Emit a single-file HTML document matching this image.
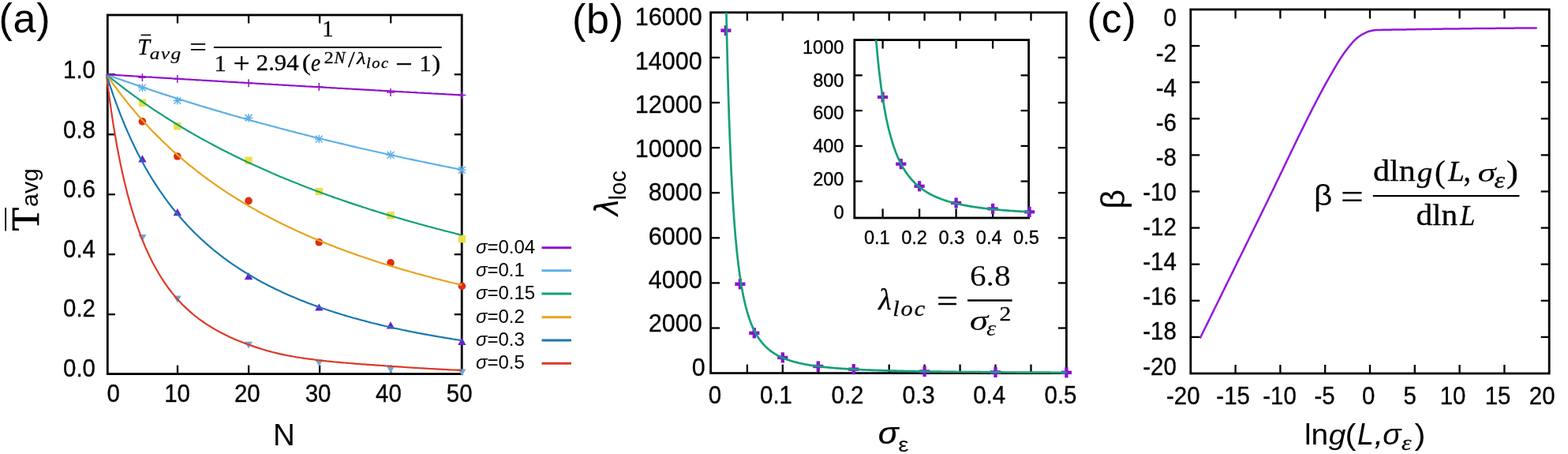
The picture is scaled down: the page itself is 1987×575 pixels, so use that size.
<!DOCTYPE html>
<html lang="en"><head><meta charset="utf-8"><title>Figure</title>
<style>
html,body{margin:0;padding:0;background:#fff;}
body{width:1987px;height:575px;overflow:hidden;}
svg{display:block;filter:blur(0.45px);}
</style></head>
<body>
<svg width="1987" height="575" viewBox="0 0 1987 575">
<rect width="1987" height="575" fill="#fff"/>
<g id="panelA">
<rect x="136.3" y="19.0" width="448.90000000000003" height="454.6" fill="none" stroke="#000" stroke-width="2.8"/>
<line x1="225.0" y1="473.6" x2="225.0" y2="462.6" stroke="#000" stroke-width="2.3" />
<line x1="225.0" y1="19.0" x2="225.0" y2="29.5" stroke="#000" stroke-width="2.3" />
<line x1="315.1" y1="473.6" x2="315.1" y2="462.6" stroke="#000" stroke-width="2.3" />
<line x1="315.1" y1="19.0" x2="315.1" y2="29.5" stroke="#000" stroke-width="2.3" />
<line x1="405.1" y1="473.6" x2="405.1" y2="462.6" stroke="#000" stroke-width="2.3" />
<line x1="405.1" y1="19.0" x2="405.1" y2="29.5" stroke="#000" stroke-width="2.3" />
<line x1="495.2" y1="473.6" x2="495.2" y2="462.6" stroke="#000" stroke-width="2.3" />
<line x1="495.2" y1="19.0" x2="495.2" y2="29.5" stroke="#000" stroke-width="2.3" />
<line x1="136.3" y1="398.2" x2="145.8" y2="398.2" stroke="#000" stroke-width="2.3" />
<line x1="585.2" y1="398.2" x2="575.7" y2="398.2" stroke="#000" stroke-width="2.3" />
<line x1="136.3" y1="322.2" x2="145.8" y2="322.2" stroke="#000" stroke-width="2.3" />
<line x1="585.2" y1="322.2" x2="575.7" y2="322.2" stroke="#000" stroke-width="2.3" />
<line x1="136.3" y1="246.3" x2="145.8" y2="246.3" stroke="#000" stroke-width="2.3" />
<line x1="585.2" y1="246.3" x2="575.7" y2="246.3" stroke="#000" stroke-width="2.3" />
<line x1="136.3" y1="170.3" x2="145.8" y2="170.3" stroke="#000" stroke-width="2.3" />
<line x1="585.2" y1="170.3" x2="575.7" y2="170.3" stroke="#000" stroke-width="2.3" />
<line x1="136.3" y1="94.3" x2="145.8" y2="94.3" stroke="#000" stroke-width="2.3" />
<line x1="585.2" y1="94.3" x2="575.7" y2="94.3" stroke="#000" stroke-width="2.3" />
<line x1="180.4" y1="93.2" x2="180.4" y2="103.2" stroke="#9012CC" stroke-width="1.5" />
<line x1="175.4" y1="98.2" x2="185.4" y2="98.2" stroke="#9012CC" stroke-width="1.5" />
<line x1="224.8" y1="95.0" x2="224.8" y2="105.0" stroke="#9012CC" stroke-width="1.5" />
<line x1="219.8" y1="100.0" x2="229.8" y2="100.0" stroke="#9012CC" stroke-width="1.5" />
<line x1="315.0" y1="100.2" x2="315.0" y2="110.2" stroke="#9012CC" stroke-width="1.5" />
<line x1="310.0" y1="105.2" x2="320.0" y2="105.2" stroke="#9012CC" stroke-width="1.5" />
<line x1="404.3" y1="105.0" x2="404.3" y2="115.0" stroke="#9012CC" stroke-width="1.5" />
<line x1="399.3" y1="110.0" x2="409.3" y2="110.0" stroke="#9012CC" stroke-width="1.5" />
<line x1="495.0" y1="112.0" x2="495.0" y2="122.0" stroke="#9012CC" stroke-width="1.5" />
<line x1="490.0" y1="117.0" x2="500.0" y2="117.0" stroke="#9012CC" stroke-width="1.5" />
<line x1="585.4" y1="115.5" x2="585.4" y2="125.5" stroke="#9012CC" stroke-width="1.5" />
<line x1="580.4" y1="120.5" x2="590.4" y2="120.5" stroke="#9012CC" stroke-width="1.5" />
<line x1="175.2" y1="111.1" x2="185.6" y2="111.1" stroke="#5DB0E6" stroke-width="1.5" />
<line x1="180.4" y1="105.9" x2="180.4" y2="116.3" stroke="#5DB0E6" stroke-width="1.5" />
<line x1="176.0" y1="106.7" x2="184.8" y2="115.5" stroke="#5DB0E6" stroke-width="1.5" />
<line x1="176.0" y1="115.5" x2="184.8" y2="106.7" stroke="#5DB0E6" stroke-width="1.5" />
<line x1="219.6" y1="127.4" x2="230.0" y2="127.4" stroke="#5DB0E6" stroke-width="1.5" />
<line x1="224.8" y1="122.2" x2="224.8" y2="132.6" stroke="#5DB0E6" stroke-width="1.5" />
<line x1="220.4" y1="123.0" x2="229.2" y2="131.8" stroke="#5DB0E6" stroke-width="1.5" />
<line x1="220.4" y1="131.8" x2="229.2" y2="123.0" stroke="#5DB0E6" stroke-width="1.5" />
<line x1="309.8" y1="149.3" x2="320.2" y2="149.3" stroke="#5DB0E6" stroke-width="1.5" />
<line x1="315.0" y1="144.1" x2="315.0" y2="154.5" stroke="#5DB0E6" stroke-width="1.5" />
<line x1="310.6" y1="144.9" x2="319.4" y2="153.7" stroke="#5DB0E6" stroke-width="1.5" />
<line x1="310.6" y1="153.7" x2="319.4" y2="144.9" stroke="#5DB0E6" stroke-width="1.5" />
<line x1="399.1" y1="176.1" x2="409.5" y2="176.1" stroke="#5DB0E6" stroke-width="1.5" />
<line x1="404.3" y1="170.9" x2="404.3" y2="181.3" stroke="#5DB0E6" stroke-width="1.5" />
<line x1="399.9" y1="171.7" x2="408.7" y2="180.5" stroke="#5DB0E6" stroke-width="1.5" />
<line x1="399.9" y1="180.5" x2="408.7" y2="171.7" stroke="#5DB0E6" stroke-width="1.5" />
<line x1="489.8" y1="196.3" x2="500.2" y2="196.3" stroke="#5DB0E6" stroke-width="1.5" />
<line x1="495.0" y1="191.1" x2="495.0" y2="201.5" stroke="#5DB0E6" stroke-width="1.5" />
<line x1="490.6" y1="191.9" x2="499.4" y2="200.7" stroke="#5DB0E6" stroke-width="1.5" />
<line x1="490.6" y1="200.7" x2="499.4" y2="191.9" stroke="#5DB0E6" stroke-width="1.5" />
<line x1="580.2" y1="215.4" x2="590.6" y2="215.4" stroke="#5DB0E6" stroke-width="1.5" />
<line x1="585.4" y1="210.2" x2="585.4" y2="220.6" stroke="#5DB0E6" stroke-width="1.5" />
<line x1="581.0" y1="211.0" x2="589.8" y2="219.8" stroke="#5DB0E6" stroke-width="1.5" />
<line x1="581.0" y1="219.8" x2="589.8" y2="211.0" stroke="#5DB0E6" stroke-width="1.5" />
<rect x="175.7" y="125.5" width="9.4" height="9.4" fill="#ECE045"/>
<rect x="220.1" y="155.1" width="9.4" height="9.4" fill="#ECE045"/>
<rect x="310.3" y="198.6" width="9.4" height="9.4" fill="#ECE045"/>
<rect x="399.6" y="237.9" width="9.4" height="9.4" fill="#ECE045"/>
<rect x="490.3" y="268.1" width="9.4" height="9.4" fill="#ECE045"/>
<rect x="580.7" y="297.9" width="9.4" height="9.4" fill="#ECE045"/>
<circle cx="180.4" cy="153.9" r="4.8" fill="#E02C12"/>
<circle cx="224.8" cy="198.0" r="4.8" fill="#E02C12"/>
<circle cx="315.0" cy="254.4" r="4.8" fill="#E02C12"/>
<circle cx="404.3" cy="306.8" r="4.8" fill="#E02C12"/>
<circle cx="495.0" cy="332.9" r="4.8" fill="#E02C12"/>
<circle cx="585.4" cy="362.4" r="4.8" fill="#E02C12"/>
<polygon points="180.4,196.3 175.2,205.4 185.6,205.4" fill="#6A1FD0"/>
<polygon points="224.8,264.1 219.6,273.2 230.0,273.2" fill="#6A1FD0"/>
<polygon points="315.0,345.1 309.8,354.2 320.2,354.2" fill="#6A1FD0"/>
<polygon points="404.3,384.4 399.1,393.5 409.5,393.5" fill="#6A1FD0"/>
<polygon points="495.0,407.3 489.8,416.4 500.2,416.4" fill="#6A1FD0"/>
<polygon points="585.4,427.8 580.2,436.9 590.6,436.9" fill="#6A1FD0"/>
<polygon points="180.4,305.9 175.4,297.1 185.4,297.1" fill="#6FA8D8"/>
<polygon points="224.8,383.4 219.8,374.6 229.8,374.6" fill="#6FA8D8"/>
<polygon points="315.0,441.5 310.0,432.8 320.0,432.8" fill="#6FA8D8"/>
<polygon points="404.3,464.1 399.3,455.4 409.3,455.4" fill="#6FA8D8"/>
<polygon points="495.0,472.8 490.0,464.1 500.0,464.1" fill="#6FA8D8"/>
<polygon points="585.4,476.3 580.4,467.6 590.4,467.6" fill="#6FA8D8"/>
<polyline points="134.9,94.3 137.2,112.5 139.4,129.4 141.7,145.1 143.9,159.6 146.2,173.2 148.4,185.8 150.7,197.7 152.9,208.8 155.2,219.2 157.4,229.1 159.7,238.3 161.9,247.1 164.2,255.4 166.4,263.2 168.7,270.6 170.9,277.7 173.2,284.4 175.4,290.7 177.7,296.8 179.9,302.6 182.2,308.1 184.4,313.4 186.7,318.5 188.9,323.3 191.2,328.0 193.4,332.4 195.7,336.7 198.0,340.8 200.2,344.7 202.5,348.5 204.7,352.1 207.0,355.6 209.2,358.9 211.5,362.2 213.7,365.3 216.0,368.2 218.2,371.1 220.5,373.9 222.7,376.5 225.0,379.1 227.2,381.5 229.5,383.9 231.7,386.2 234.0,388.4 236.2,390.6 238.5,392.6 240.7,394.6 243.0,396.6 245.2,398.5 247.5,400.3 249.7,402.0 252.0,403.8 254.2,405.4 256.5,407.0 258.8,408.6 261.0,410.1 263.3,411.6 265.5,413.0 267.8,414.4 270.0,415.7 272.3,417.1 274.5,418.3 276.8,419.6 279.0,420.8 281.3,422.0 283.5,423.1 285.8,424.2 288.0,425.3 290.3,426.4 292.5,427.4 294.8,428.4 297.0,429.4 299.3,430.4 301.5,431.3 303.8,432.2 306.0,433.1 308.3,434.0 310.5,434.9 312.8,435.7 315.1,436.5 317.3,437.3 319.6,438.1 321.8,438.9 324.1,439.6 326.3,440.4 328.6,441.1 330.8,441.8 333.1,442.5 335.3,443.2 337.6,443.9 339.8,444.5 342.1,445.1 344.3,445.7 346.6,446.3 348.8,446.9 351.1,447.4 353.3,447.9 355.6,448.4 357.8,448.9 360.1,449.4 362.3,449.8 364.6,450.3 366.8,450.7 369.1,451.1 371.3,451.5 373.6,451.9 375.9,452.3 378.1,452.6 380.4,453.0 382.6,453.3 384.9,453.7 387.1,454.0 389.4,454.3 391.6,454.6 393.9,454.9 396.1,455.2 398.4,455.5 400.6,455.8 402.9,456.1 405.1,456.3 407.4,456.6 409.6,456.9 411.9,457.1 414.1,457.4 416.4,457.6 418.6,457.8 420.9,458.0 423.1,458.3 425.4,458.5 427.6,458.7 429.9,458.9 432.1,459.1 434.4,459.3 436.7,459.5 438.9,459.7 441.2,459.9 443.4,460.0 445.7,460.2 447.9,460.4 450.2,460.6 452.4,460.8 454.7,460.9 456.9,461.1 459.2,461.3 461.4,461.4 463.7,461.6 465.9,461.8 468.2,461.9 470.4,462.1 472.7,462.2 474.9,462.4 477.2,462.6 479.4,462.7 481.7,462.9 483.9,463.0 486.2,463.2 488.4,463.4 490.7,463.5 492.9,463.7 495.2,463.8 497.5,464.0 499.7,464.1 502.0,464.3 504.2,464.4 506.5,464.6 508.7,464.7 511.0,464.9 513.2,465.0 515.5,465.2 517.7,465.3 520.0,465.5 522.2,465.6 524.5,465.8 526.7,465.9 529.0,466.0 531.2,466.2 533.5,466.3 535.7,466.4 538.0,466.6 540.2,466.7 542.5,466.8 544.7,467.0 547.0,467.1 549.2,467.2 551.5,467.3 553.7,467.4 556.0,467.6 558.3,467.7 560.5,467.8 562.8,467.9 565.0,468.0 567.3,468.1 569.5,468.3 571.8,468.4 574.0,468.5 576.3,468.6 578.5,468.7 580.8,468.8 583.0,468.9 585.3,469.0" fill="none" stroke="#DE3A2A" stroke-width="2.2" stroke-linejoin="round" stroke-linecap="butt"/>
<polyline points="134.9,94.3 137.2,101.4 139.4,108.4 141.7,115.1 143.9,121.6 146.2,127.9 148.4,134.0 150.7,140.0 152.9,145.8 155.2,151.4 157.4,156.9 159.7,162.2 161.9,167.4 164.2,172.4 166.4,177.4 168.7,182.1 170.9,186.8 173.2,191.4 175.4,195.8 177.7,200.1 179.9,204.3 182.2,208.4 184.4,212.5 186.7,216.4 188.9,220.2 191.2,224.0 193.4,227.6 195.7,231.2 198.0,234.7 200.2,238.1 202.5,241.5 204.7,244.7 207.0,247.9 209.2,251.1 211.5,254.1 213.7,257.1 216.0,260.1 218.2,263.0 220.5,265.8 222.7,268.5 225.0,271.3 227.2,273.9 229.5,276.5 231.7,279.1 234.0,281.6 236.2,284.0 238.5,286.4 240.7,288.8 243.0,291.1 245.2,293.4 247.5,295.7 249.7,297.8 252.0,300.0 254.2,302.1 256.5,304.2 258.8,306.2 261.0,308.3 263.3,310.2 265.5,312.2 267.8,314.1 270.0,316.0 272.3,317.8 274.5,319.6 276.8,321.4 279.0,323.1 281.3,324.9 283.5,326.6 285.8,328.2 288.0,329.9 290.3,331.5 292.5,333.1 294.8,334.6 297.0,336.2 299.3,337.7 301.5,339.2 303.8,340.7 306.0,342.1 308.3,343.5 310.5,344.9 312.8,346.3 315.1,347.7 317.3,349.0 319.6,350.3 321.8,351.6 324.1,352.9 326.3,354.2 328.6,355.4 330.8,356.7 333.1,357.9 335.3,359.1 337.6,360.3 339.8,361.4 342.1,362.6 344.3,363.7 346.6,364.8 348.8,365.9 351.1,367.0 353.3,368.1 355.6,369.1 357.8,370.2 360.1,371.2 362.3,372.2 364.6,373.2 366.8,374.2 369.1,375.2 371.3,376.1 373.6,377.1 375.9,378.0 378.1,378.9 380.4,379.9 382.6,380.8 384.9,381.6 387.1,382.5 389.4,383.4 391.6,384.3 393.9,385.1 396.1,385.9 398.4,386.8 400.6,387.6 402.9,388.4 405.1,389.2 407.4,390.0 409.6,390.7 411.9,391.5 414.1,392.3 416.4,393.0 418.6,393.8 420.9,394.5 423.1,395.2 425.4,395.9 427.6,396.6 429.9,397.3 432.1,398.0 434.4,398.7 436.7,399.4 438.9,400.1 441.2,400.7 443.4,401.4 445.7,402.0 447.9,402.7 450.2,403.3 452.4,403.9 454.7,404.5 456.9,405.1 459.2,405.7 461.4,406.3 463.7,406.9 465.9,407.5 468.2,408.1 470.4,408.7 472.7,409.2 474.9,409.8 477.2,410.3 479.4,410.9 481.7,411.4 483.9,412.0 486.2,412.5 488.4,413.0 490.7,413.5 492.9,414.0 495.2,414.6 497.5,415.1 499.7,415.6 502.0,416.0 504.2,416.5 506.5,417.0 508.7,417.5 511.0,418.0 513.2,418.4 515.5,418.9 517.7,419.4 520.0,419.8 522.2,420.3 524.5,420.7 526.7,421.1 529.0,421.6 531.2,422.0 533.5,422.4 535.7,422.9 538.0,423.3 540.2,423.7 542.5,424.1 544.7,424.5 547.0,424.9 549.2,425.3 551.5,425.7 553.7,426.1 556.0,426.5 558.3,426.9 560.5,427.2 562.8,427.6 565.0,428.0 567.3,428.4 569.5,428.7 571.8,429.1 574.0,429.5 576.3,429.8 578.5,430.2 580.8,430.5 583.0,430.9 585.3,431.2" fill="none" stroke="#1878B0" stroke-width="2.2" stroke-linejoin="round" stroke-linecap="butt"/>
<polyline points="134.9,94.3 137.2,97.6 139.4,100.8 141.7,103.9 143.9,107.1 146.2,110.2 148.4,113.2 150.7,116.2 152.9,119.2 155.2,122.1 157.4,124.9 159.7,127.8 161.9,130.6 164.2,133.4 166.4,136.1 168.7,138.8 170.9,141.4 173.2,144.1 175.4,146.7 177.7,149.2 179.9,151.7 182.2,154.2 184.4,156.7 186.7,159.1 188.9,161.5 191.2,163.9 193.4,166.3 195.7,168.6 198.0,170.9 200.2,173.1 202.5,175.3 204.7,177.6 207.0,179.7 209.2,181.9 211.5,184.0 213.7,186.1 216.0,188.2 218.2,190.3 220.5,192.3 222.7,194.3 225.0,196.3 227.2,198.3 229.5,200.2 231.7,202.1 234.0,204.0 236.2,205.9 238.5,207.8 240.7,209.6 243.0,211.4 245.2,213.2 247.5,215.0 249.7,216.8 252.0,218.5 254.2,220.2 256.5,222.0 258.8,223.6 261.0,225.3 263.3,227.0 265.5,228.6 267.8,230.2 270.0,231.8 272.3,233.4 274.5,235.0 276.8,236.5 279.0,238.1 281.3,239.6 283.5,241.1 285.8,242.6 288.0,244.1 290.3,245.6 292.5,247.0 294.8,248.4 297.0,249.9 299.3,251.3 301.5,252.7 303.8,254.0 306.0,255.4 308.3,256.8 310.5,258.1 312.8,259.4 315.1,260.8 317.3,262.1 319.6,263.4 321.8,264.6 324.1,265.9 326.3,267.2 328.6,268.4 330.8,269.7 333.1,270.9 335.3,272.1 337.6,273.3 339.8,274.5 342.1,275.7 344.3,276.8 346.6,278.0 348.8,279.2 351.1,280.3 353.3,281.4 355.6,282.5 357.8,283.7 360.1,284.8 362.3,285.8 364.6,286.9 366.8,288.0 369.1,289.1 371.3,290.1 373.6,291.2 375.9,292.2 378.1,293.2 380.4,294.2 382.6,295.3 384.9,296.3 387.1,297.3 389.4,298.2 391.6,299.2 393.9,300.2 396.1,301.2 398.4,302.1 400.6,303.1 402.9,304.0 405.1,304.9 407.4,305.9 409.6,306.8 411.9,307.7 414.1,308.6 416.4,309.5 418.6,310.4 420.9,311.2 423.1,312.1 425.4,313.0 427.6,313.9 429.9,314.7 432.1,315.6 434.4,316.4 436.7,317.2 438.9,318.1 441.2,318.9 443.4,319.7 445.7,320.5 447.9,321.3 450.2,322.1 452.4,322.9 454.7,323.7 456.9,324.5 459.2,325.2 461.4,326.0 463.7,326.8 465.9,327.5 468.2,328.3 470.4,329.0 472.7,329.8 474.9,330.5 477.2,331.2 479.4,332.0 481.7,332.7 483.9,333.4 486.2,334.1 488.4,334.8 490.7,335.5 492.9,336.2 495.2,336.9 497.5,337.6 499.7,338.3 502.0,338.9 504.2,339.6 506.5,340.3 508.7,340.9 511.0,341.6 513.2,342.2 515.5,342.9 517.7,343.5 520.0,344.2 522.2,344.8 524.5,345.4 526.7,346.1 529.0,346.7 531.2,347.3 533.5,347.9 535.7,348.5 538.0,349.1 540.2,349.7 542.5,350.3 544.7,350.9 547.0,351.5 549.2,352.1 551.5,352.7 553.7,353.2 556.0,353.8 558.3,354.4 560.5,355.0 562.8,355.5 565.0,356.1 567.3,356.6 569.5,357.2 571.8,357.7 574.0,358.3 576.3,358.8 578.5,359.4 580.8,359.9 583.0,360.4 585.3,360.9" fill="none" stroke="#E6A41C" stroke-width="2.2" stroke-linejoin="round" stroke-linecap="butt"/>
<polyline points="134.9,94.3 137.2,96.1 139.4,98.0 141.7,99.8 143.9,101.6 146.2,103.4 148.4,105.1 150.7,106.9 152.9,108.6 155.2,110.3 157.4,112.1 159.7,113.8 161.9,115.4 164.2,117.1 166.4,118.8 168.7,120.4 170.9,122.1 173.2,123.7 175.4,125.3 177.7,126.9 179.9,128.5 182.2,130.1 184.4,131.6 186.7,133.2 188.9,134.7 191.2,136.3 193.4,137.8 195.7,139.3 198.0,140.8 200.2,142.3 202.5,143.7 204.7,145.2 207.0,146.7 209.2,148.1 211.5,149.5 213.7,151.0 216.0,152.4 218.2,153.8 220.5,155.2 222.7,156.5 225.0,157.9 227.2,159.3 229.5,160.6 231.7,162.0 234.0,163.3 236.2,164.6 238.5,166.0 240.7,167.3 243.0,168.6 245.2,169.9 247.5,171.1 249.7,172.4 252.0,173.7 254.2,174.9 256.5,176.2 258.8,177.4 261.0,178.6 263.3,179.9 265.5,181.1 267.8,182.3 270.0,183.5 272.3,184.7 274.5,185.9 276.8,187.0 279.0,188.2 281.3,189.4 283.5,190.5 285.8,191.7 288.0,192.8 290.3,193.9 292.5,195.1 294.8,196.2 297.0,197.3 299.3,198.4 301.5,199.5 303.8,200.6 306.0,201.7 308.3,202.7 310.5,203.8 312.8,204.9 315.1,205.9 317.3,207.0 319.6,208.0 321.8,209.0 324.1,210.1 326.3,211.1 328.6,212.1 330.8,213.1 333.1,214.1 335.3,215.1 337.6,216.1 339.8,217.1 342.1,218.1 344.3,219.1 346.6,220.0 348.8,221.0 351.1,222.0 353.3,222.9 355.6,223.9 357.8,224.8 360.1,225.7 362.3,226.7 364.6,227.6 366.8,228.5 369.1,229.4 371.3,230.3 373.6,231.2 375.9,232.1 378.1,233.0 380.4,233.9 382.6,234.8 384.9,235.7 387.1,236.5 389.4,237.4 391.6,238.3 393.9,239.1 396.1,240.0 398.4,240.8 400.6,241.7 402.9,242.5 405.1,243.3 407.4,244.2 409.6,245.0 411.9,245.8 414.1,246.6 416.4,247.5 418.6,248.3 420.9,249.1 423.1,249.9 425.4,250.7 427.6,251.4 429.9,252.2 432.1,253.0 434.4,253.8 436.7,254.6 438.9,255.3 441.2,256.1 443.4,256.9 445.7,257.6 447.9,258.4 450.2,259.1 452.4,259.9 454.7,260.6 456.9,261.3 459.2,262.1 461.4,262.8 463.7,263.5 465.9,264.2 468.2,265.0 470.4,265.7 472.7,266.4 474.9,267.1 477.2,267.8 479.4,268.5 481.7,269.2 483.9,269.9 486.2,270.6 488.4,271.3 490.7,271.9 492.9,272.6 495.2,273.3 497.5,274.0 499.7,274.6 502.0,275.3 504.2,276.0 506.5,276.6 508.7,277.3 511.0,277.9 513.2,278.6 515.5,279.2 517.7,279.9 520.0,280.5 522.2,281.1 524.5,281.8 526.7,282.4 529.0,283.0 531.2,283.7 533.5,284.3 535.7,284.9 538.0,285.5 540.2,286.1 542.5,286.7 544.7,287.3 547.0,287.9 549.2,288.5 551.5,289.1 553.7,289.7 556.0,290.3 558.3,290.9 560.5,291.5 562.8,292.1 565.0,292.7 567.3,293.2 569.5,293.8 571.8,294.4 574.0,294.9 576.3,295.5 578.5,296.1 580.8,296.6 583.0,297.2 585.3,297.8" fill="none" stroke="#12A07A" stroke-width="2.2" stroke-linejoin="round" stroke-linecap="butt"/>
<polyline points="134.9,94.3 137.2,95.1 139.4,95.9 141.7,96.8 143.9,97.6 146.2,98.4 148.4,99.2 150.7,100.0 152.9,100.8 155.2,101.6 157.4,102.4 159.7,103.2 161.9,103.9 164.2,104.7 166.4,105.5 168.7,106.3 170.9,107.1 173.2,107.8 175.4,108.6 177.7,109.4 179.9,110.2 182.2,110.9 184.4,111.7 186.7,112.4 188.9,113.2 191.2,113.9 193.4,114.7 195.7,115.4 198.0,116.2 200.2,116.9 202.5,117.7 204.7,118.4 207.0,119.2 209.2,119.9 211.5,120.6 213.7,121.3 216.0,122.1 218.2,122.8 220.5,123.5 222.7,124.2 225.0,124.9 227.2,125.7 229.5,126.4 231.7,127.1 234.0,127.8 236.2,128.5 238.5,129.2 240.7,129.9 243.0,130.6 245.2,131.3 247.5,132.0 249.7,132.7 252.0,133.4 254.2,134.0 256.5,134.7 258.8,135.4 261.0,136.1 263.3,136.8 265.5,137.4 267.8,138.1 270.0,138.8 272.3,139.4 274.5,140.1 276.8,140.8 279.0,141.4 281.3,142.1 283.5,142.8 285.8,143.4 288.0,144.1 290.3,144.7 292.5,145.4 294.8,146.0 297.0,146.7 299.3,147.3 301.5,147.9 303.8,148.6 306.0,149.2 308.3,149.8 310.5,150.5 312.8,151.1 315.1,151.7 317.3,152.4 319.6,153.0 321.8,153.6 324.1,154.2 326.3,154.9 328.6,155.5 330.8,156.1 333.1,156.7 335.3,157.3 337.6,157.9 339.8,158.5 342.1,159.1 344.3,159.7 346.6,160.3 348.8,160.9 351.1,161.5 353.3,162.1 355.6,162.7 357.8,163.3 360.1,163.9 362.3,164.5 364.6,165.1 366.8,165.7 369.1,166.3 371.3,166.8 373.6,167.4 375.9,168.0 378.1,168.6 380.4,169.1 382.6,169.7 384.9,170.3 387.1,170.9 389.4,171.4 391.6,172.0 393.9,172.6 396.1,173.1 398.4,173.7 400.6,174.2 402.9,174.8 405.1,175.3 407.4,175.9 409.6,176.5 411.9,177.0 414.1,177.6 416.4,178.1 418.6,178.6 420.9,179.2 423.1,179.7 425.4,180.3 427.6,180.8 429.9,181.4 432.1,181.9 434.4,182.4 436.7,183.0 438.9,183.5 441.2,184.0 443.4,184.6 445.7,185.1 447.9,185.6 450.2,186.1 452.4,186.7 454.7,187.2 456.9,187.7 459.2,188.2 461.4,188.7 463.7,189.2 465.9,189.8 468.2,190.3 470.4,190.8 472.7,191.3 474.9,191.8 477.2,192.3 479.4,192.8 481.7,193.3 483.9,193.8 486.2,194.3 488.4,194.8 490.7,195.3 492.9,195.8 495.2,196.3 497.5,196.8 499.7,197.3 502.0,197.8 504.2,198.3 506.5,198.8 508.7,199.2 511.0,199.7 513.2,200.2 515.5,200.7 517.7,201.2 520.0,201.7 522.2,202.1 524.5,202.6 526.7,203.1 529.0,203.6 531.2,204.0 533.5,204.5 535.7,205.0 538.0,205.4 540.2,205.9 542.5,206.4 544.7,206.8 547.0,207.3 549.2,207.8 551.5,208.2 553.7,208.7 556.0,209.2 558.3,209.6 560.5,210.1 562.8,210.5 565.0,211.0 567.3,211.4 569.5,211.9 571.8,212.3 574.0,212.8 576.3,213.2 578.5,213.7 580.8,214.1 583.0,214.6 585.3,215.0" fill="none" stroke="#5DB0E6" stroke-width="2.2" stroke-linejoin="round" stroke-linecap="butt"/>
<polyline points="134.9,94.3 137.2,94.4 139.4,94.6 141.7,94.7 143.9,94.9 146.2,95.0 148.4,95.1 150.7,95.3 152.9,95.4 155.2,95.5 157.4,95.7 159.7,95.8 161.9,96.0 164.2,96.1 166.4,96.2 168.7,96.4 170.9,96.5 173.2,96.6 175.4,96.8 177.7,96.9 179.9,97.1 182.2,97.2 184.4,97.3 186.7,97.5 188.9,97.6 191.2,97.7 193.4,97.9 195.7,98.0 198.0,98.2 200.2,98.3 202.5,98.4 204.7,98.6 207.0,98.7 209.2,98.8 211.5,99.0 213.7,99.1 216.0,99.2 218.2,99.4 220.5,99.5 222.7,99.6 225.0,99.8 227.2,99.9 229.5,100.1 231.7,100.2 234.0,100.3 236.2,100.5 238.5,100.6 240.7,100.7 243.0,100.9 245.2,101.0 247.5,101.1 249.7,101.3 252.0,101.4 254.2,101.5 256.5,101.7 258.8,101.8 261.0,101.9 263.3,102.1 265.5,102.2 267.8,102.3 270.0,102.5 272.3,102.6 274.5,102.7 276.8,102.9 279.0,103.0 281.3,103.1 283.5,103.3 285.8,103.4 288.0,103.5 290.3,103.7 292.5,103.8 294.8,103.9 297.0,104.1 299.3,104.2 301.5,104.3 303.8,104.5 306.0,104.6 308.3,104.7 310.5,104.9 312.8,105.0 315.1,105.1 317.3,105.3 319.6,105.4 321.8,105.5 324.1,105.7 326.3,105.8 328.6,105.9 330.8,106.1 333.1,106.2 335.3,106.3 337.6,106.5 339.8,106.6 342.1,106.7 344.3,106.8 346.6,107.0 348.8,107.1 351.1,107.2 353.3,107.4 355.6,107.5 357.8,107.6 360.1,107.8 362.3,107.9 364.6,108.0 366.8,108.2 369.1,108.3 371.3,108.4 373.6,108.5 375.9,108.7 378.1,108.8 380.4,108.9 382.6,109.1 384.9,109.2 387.1,109.3 389.4,109.5 391.6,109.6 393.9,109.7 396.1,109.8 398.4,110.0 400.6,110.1 402.9,110.2 405.1,110.4 407.4,110.5 409.6,110.6 411.9,110.7 414.1,110.9 416.4,111.0 418.6,111.1 420.9,111.3 423.1,111.4 425.4,111.5 427.6,111.7 429.9,111.8 432.1,111.9 434.4,112.0 436.7,112.2 438.9,112.3 441.2,112.4 443.4,112.5 445.7,112.7 447.9,112.8 450.2,112.9 452.4,113.1 454.7,113.2 456.9,113.3 459.2,113.4 461.4,113.6 463.7,113.7 465.9,113.8 468.2,113.9 470.4,114.1 472.7,114.2 474.9,114.3 477.2,114.5 479.4,114.6 481.7,114.7 483.9,114.8 486.2,115.0 488.4,115.1 490.7,115.2 492.9,115.3 495.2,115.5 497.5,115.6 499.7,115.7 502.0,115.8 504.2,116.0 506.5,116.1 508.7,116.2 511.0,116.4 513.2,116.5 515.5,116.6 517.7,116.7 520.0,116.9 522.2,117.0 524.5,117.1 526.7,117.2 529.0,117.4 531.2,117.5 533.5,117.6 535.7,117.7 538.0,117.9 540.2,118.0 542.5,118.1 544.7,118.2 547.0,118.4 549.2,118.5 551.5,118.6 553.7,118.7 556.0,118.8 558.3,119.0 560.5,119.1 562.8,119.2 565.0,119.3 567.3,119.5 569.5,119.6 571.8,119.7 574.0,119.8 576.3,120.0 578.5,120.1 580.8,120.2 583.0,120.3 585.3,120.5" fill="none" stroke="#9012CC" stroke-width="2.2" stroke-linejoin="round" stroke-linecap="butt"/>
<text transform="translate(121.0,476.6) scale(0.92,1)" font-family='"Liberation Sans", sans-serif' font-size="32" text-anchor="end" fill="#000"  stroke="#000" stroke-width="0.35">0.0</text>
<text transform="translate(121.0,401.1) scale(0.92,1)" font-family='"Liberation Sans", sans-serif' font-size="32" text-anchor="end" fill="#000"  stroke="#000" stroke-width="0.35">0.2</text>
<text transform="translate(121.0,325.6) scale(0.92,1)" font-family='"Liberation Sans", sans-serif' font-size="32" text-anchor="end" fill="#000"  stroke="#000" stroke-width="0.35">0.4</text>
<text transform="translate(121.0,250.2) scale(0.92,1)" font-family='"Liberation Sans", sans-serif' font-size="32" text-anchor="end" fill="#000"  stroke="#000" stroke-width="0.35">0.6</text>
<text transform="translate(121.0,174.7) scale(0.92,1)" font-family='"Liberation Sans", sans-serif' font-size="32" text-anchor="end" fill="#000"  stroke="#000" stroke-width="0.35">0.8</text>
<text transform="translate(121.0,99.2) scale(0.92,1)" font-family='"Liberation Sans", sans-serif' font-size="32" text-anchor="end" fill="#000"  stroke="#000" stroke-width="0.35">1.0</text>
<text transform="translate(143.8,509.2) scale(0.92,1)" font-family='"Liberation Sans", sans-serif' font-size="32" text-anchor="middle" fill="#000"  stroke="#000" stroke-width="0.35">0</text>
<text transform="translate(224.6,509.2) scale(0.92,1)" font-family='"Liberation Sans", sans-serif' font-size="32" text-anchor="middle" fill="#000"  stroke="#000" stroke-width="0.35">10</text>
<text transform="translate(313.3,509.2) scale(0.92,1)" font-family='"Liberation Sans", sans-serif' font-size="32" text-anchor="middle" fill="#000"  stroke="#000" stroke-width="0.35">20</text>
<text transform="translate(403.0,509.2) scale(0.92,1)" font-family='"Liberation Sans", sans-serif' font-size="32" text-anchor="middle" fill="#000"  stroke="#000" stroke-width="0.35">30</text>
<text transform="translate(492.4,509.2) scale(0.92,1)" font-family='"Liberation Sans", sans-serif' font-size="32" text-anchor="middle" fill="#000"  stroke="#000" stroke-width="0.35">40</text>
<text transform="translate(582.2,509.2) scale(0.92,1)" font-family='"Liberation Sans", sans-serif' font-size="32" text-anchor="middle" fill="#000"  stroke="#000" stroke-width="0.35">50</text>
<text transform="translate(360.0,563.8) scale(1,1)" font-family='"Liberation Sans", sans-serif' font-size="38.5" text-anchor="middle" fill="#000" >N</text>
<text transform="translate(49.25,292.50) rotate(-90) scale(0.4848,0.5130)" font-family='"Liberation Serif", serif' font-size="100" fill="#000" stroke="#000" stroke-width="1.40" stroke-linejoin="round">T</text>
<line x1="7.1" y1="263.0" x2="7.1" y2="292.4" stroke="#000" stroke-width="1.8" />
<text transform="translate(48.46,261.88) rotate(-90) scale(0.3023,0.3007)" font-family='"Liberation Sans", sans-serif' font-size="100" fill="#000">avg</text>
<text x="603" y="321.0" font-family='"Liberation Sans", sans-serif' font-size="24" fill="#000"><tspan font-style="italic">σ</tspan>=0.04</text>
<line x1="686.5" y1="313.8" x2="724.0" y2="313.8" stroke="#9012CC" stroke-width="3.0" />
<text x="603" y="350.0" font-family='"Liberation Sans", sans-serif' font-size="24" fill="#000"><tspan font-style="italic">σ</tspan>=0.1</text>
<line x1="686.5" y1="342.8" x2="724.0" y2="342.8" stroke="#5DB0E6" stroke-width="3.0" />
<text x="603" y="379.3" font-family='"Liberation Sans", sans-serif' font-size="24" fill="#000"><tspan font-style="italic">σ</tspan>=0.15</text>
<line x1="686.5" y1="372.1" x2="724.0" y2="372.1" stroke="#12A07A" stroke-width="3.0" />
<text x="603" y="409.0" font-family='"Liberation Sans", sans-serif' font-size="24" fill="#000"><tspan font-style="italic">σ</tspan>=0.2</text>
<line x1="686.5" y1="401.8" x2="724.0" y2="401.8" stroke="#E6A41C" stroke-width="3.0" />
<text x="603" y="438.2" font-family='"Liberation Sans", sans-serif' font-size="24" fill="#000"><tspan font-style="italic">σ</tspan>=0.3</text>
<line x1="686.5" y1="431.0" x2="724.0" y2="431.0" stroke="#1878B0" stroke-width="3.0" />
<text x="603" y="467.4" font-family='"Liberation Sans", sans-serif' font-size="24" fill="#000"><tspan font-style="italic">σ</tspan>=0.5</text>
<line x1="686.5" y1="460.2" x2="724.0" y2="460.2" stroke="#DE3A2A" stroke-width="3.0" />
<text transform="translate(174.32,68.75) scale(0.2818,0.2878)" font-family='"Liberation Serif", serif' font-size="100" font-style="italic" fill="#000"  stroke="#000" stroke-width="1.05" stroke-linejoin="round">T</text>
<line x1="178.6" y1="44.4" x2="191.2" y2="44.4" stroke="#000" stroke-width="1.6" />
<text transform="translate(189.64,74.58) scale(0.2538,0.2081)" font-family='"Liberation Serif", serif' font-size="100" font-style="italic" letter-spacing="5.80" fill="#000" stroke="#000" stroke-width="0.87" stroke-linejoin="round">avg</text>
<text transform="translate(240.04,71.21) scale(0.3914,0.3280)" font-family='"Liberation Serif", serif' font-size="100" fill="#000" >=</text>
<line x1="270.9" y1="60.0" x2="559.7" y2="60.0" stroke="#000" stroke-width="2.1" />
<text transform="translate(408.24,45.85) scale(0.2865,0.2985)" font-family='"Liberation Serif", serif' font-size="100" fill="#000"  stroke="#000" stroke-width="1.03" stroke-linejoin="round">1</text>
<text transform="translate(271.57,89.65) scale(0.3064,0.3015)" font-family='"Liberation Serif", serif' font-size="100" fill="#000"  stroke="#000" stroke-width="0.99" stroke-linejoin="round">1</text>
<text transform="translate(295.71,92.43) scale(0.3677,0.3677)" font-family='"Liberation Serif", serif' font-size="100" fill="#000"  stroke="#000" stroke-width="1.36" stroke-linejoin="round">+</text>
<text transform="translate(324.85,89.31) scale(0.3066,0.2952)" font-family='"Liberation Serif", serif' font-size="100" fill="#000"  stroke="#000" stroke-width="1.00" stroke-linejoin="round">2.94</text>
<text transform="translate(382.71,89.35) scale(0.3379,0.2964)" font-family='"Liberation Serif", serif' font-size="100" fill="#000"  stroke="#000" stroke-width="0.95" stroke-linejoin="round">(</text>
<text transform="translate(393.93,89.62) scale(0.2726,0.3250)" font-family='"Liberation Serif", serif' font-size="100" font-style="italic" fill="#000"  stroke="#000" stroke-width="1.00" stroke-linejoin="round">e</text>
<text transform="translate(410.40,80.35) scale(0.2460,0.2083)" font-family='"Liberation Serif", serif' font-size="100" fill="#000"  stroke="#000" stroke-width="1.32" stroke-linejoin="round">2</text>
<text transform="translate(423.61,80.35) scale(0.2097,0.2046)" font-family='"Liberation Serif", serif' font-size="100" font-style="italic" fill="#000"  stroke="#000" stroke-width="1.45" stroke-linejoin="round">N</text>
<text transform="translate(441.05,85.16) scale(0.3135,0.2910)" font-family='"Liberation Serif", serif' font-size="100" fill="#000"  stroke="#000" stroke-width="0.99" stroke-linejoin="round">/</text>
<text transform="translate(452.01,80.75) scale(0.2659,0.2113)" font-family='"Liberation Serif", serif' font-size="100" font-style="italic" fill="#000"  stroke="#000" stroke-width="1.26" stroke-linejoin="round">λ</text>
<text transform="translate(464.12,86.02) scale(0.2049,0.1830)" font-family='"Liberation Serif", serif' font-size="100" font-style="italic" letter-spacing="7.51" fill="#000" stroke="#000" stroke-width="1.55" stroke-linejoin="round">loc</text>
<text transform="translate(500.94,95.53) scale(0.3914,0.4400)" font-family='"Liberation Serif", serif' font-size="100" fill="#000" >−</text>
<text transform="translate(531.17,89.65) scale(0.3064,0.3015)" font-family='"Liberation Serif", serif' font-size="100" fill="#000"  stroke="#000" stroke-width="0.99" stroke-linejoin="round">1</text>
<text transform="translate(547.28,89.90) scale(0.3301,0.2942)" font-family='"Liberation Serif", serif' font-size="100" fill="#000"  stroke="#000" stroke-width="0.96" stroke-linejoin="round">)</text>
<text transform="translate(-1.4,40.6) scale(1,1)" font-family='"Liberation Sans", sans-serif' font-size="52" text-anchor="start" fill="#000" letter-spacing="0.7">(a)</text>
</g>
<g id="panelB">
<clipPath id="clipB"><rect x="900.6" y="15.8" width="453.80000000000007" height="459.8"/></clipPath>
<rect x="900.6" y="15.8" width="450.80000000000007" height="456.8" fill="none" stroke="#000" stroke-width="2.8"/>
<line x1="946.9" y1="472.6" x2="946.9" y2="461.6" stroke="#000" stroke-width="2.3" />
<line x1="946.9" y1="15.8" x2="946.9" y2="26.3" stroke="#000" stroke-width="2.3" />
<line x1="991.8" y1="472.6" x2="991.8" y2="461.6" stroke="#000" stroke-width="2.3" />
<line x1="991.8" y1="15.8" x2="991.8" y2="26.3" stroke="#000" stroke-width="2.3" />
<line x1="1036.8" y1="472.6" x2="1036.8" y2="461.6" stroke="#000" stroke-width="2.3" />
<line x1="1036.8" y1="15.8" x2="1036.8" y2="26.3" stroke="#000" stroke-width="2.3" />
<line x1="1081.7" y1="472.6" x2="1081.7" y2="461.6" stroke="#000" stroke-width="2.3" />
<line x1="1081.7" y1="15.8" x2="1081.7" y2="26.3" stroke="#000" stroke-width="2.3" />
<line x1="1126.7" y1="472.6" x2="1126.7" y2="461.6" stroke="#000" stroke-width="2.3" />
<line x1="1126.7" y1="15.8" x2="1126.7" y2="26.3" stroke="#000" stroke-width="2.3" />
<line x1="1171.6" y1="472.6" x2="1171.6" y2="461.6" stroke="#000" stroke-width="2.3" />
<line x1="1171.6" y1="15.8" x2="1171.6" y2="26.3" stroke="#000" stroke-width="2.3" />
<line x1="1216.6" y1="472.6" x2="1216.6" y2="461.6" stroke="#000" stroke-width="2.3" />
<line x1="1216.6" y1="15.8" x2="1216.6" y2="26.3" stroke="#000" stroke-width="2.3" />
<line x1="1261.5" y1="472.6" x2="1261.5" y2="461.6" stroke="#000" stroke-width="2.3" />
<line x1="1261.5" y1="15.8" x2="1261.5" y2="26.3" stroke="#000" stroke-width="2.3" />
<line x1="1306.5" y1="472.6" x2="1306.5" y2="461.6" stroke="#000" stroke-width="2.3" />
<line x1="1306.5" y1="15.8" x2="1306.5" y2="26.3" stroke="#000" stroke-width="2.3" />
<line x1="900.6" y1="415.5" x2="912.1" y2="415.5" stroke="#000" stroke-width="2.3" />
<line x1="1351.4" y1="415.5" x2="1340.9" y2="415.5" stroke="#000" stroke-width="2.3" />
<line x1="900.6" y1="358.4" x2="912.1" y2="358.4" stroke="#000" stroke-width="2.3" />
<line x1="1351.4" y1="358.4" x2="1340.9" y2="358.4" stroke="#000" stroke-width="2.3" />
<line x1="900.6" y1="301.3" x2="912.1" y2="301.3" stroke="#000" stroke-width="2.3" />
<line x1="1351.4" y1="301.3" x2="1340.9" y2="301.3" stroke="#000" stroke-width="2.3" />
<line x1="900.6" y1="244.2" x2="912.1" y2="244.2" stroke="#000" stroke-width="2.3" />
<line x1="1351.4" y1="244.2" x2="1340.9" y2="244.2" stroke="#000" stroke-width="2.3" />
<line x1="900.6" y1="187.1" x2="912.1" y2="187.1" stroke="#000" stroke-width="2.3" />
<line x1="1351.4" y1="187.1" x2="1340.9" y2="187.1" stroke="#000" stroke-width="2.3" />
<line x1="900.6" y1="130.0" x2="912.1" y2="130.0" stroke="#000" stroke-width="2.3" />
<line x1="1351.4" y1="130.0" x2="1340.9" y2="130.0" stroke="#000" stroke-width="2.3" />
<line x1="900.6" y1="72.9" x2="912.1" y2="72.9" stroke="#000" stroke-width="2.3" />
<line x1="1351.4" y1="72.9" x2="1340.9" y2="72.9" stroke="#000" stroke-width="2.3" />
<line x1="913.3" y1="38.6" x2="926.5" y2="38.6" stroke="#8A12D0" stroke-width="4.4" />
<line x1="919.9" y1="32.0" x2="919.9" y2="45.2" stroke="#8A12D0" stroke-width="4.4" />
<line x1="931.3" y1="359.8" x2="944.5" y2="359.8" stroke="#8A12D0" stroke-width="4.4" />
<line x1="937.9" y1="353.2" x2="937.9" y2="366.4" stroke="#8A12D0" stroke-width="4.4" />
<line x1="949.2" y1="421.8" x2="962.4" y2="421.8" stroke="#8A12D0" stroke-width="4.4" />
<line x1="955.8" y1="415.2" x2="955.8" y2="428.4" stroke="#8A12D0" stroke-width="4.4" />
<line x1="985.2" y1="452.9" x2="998.4" y2="452.9" stroke="#8A12D0" stroke-width="4.4" />
<line x1="991.8" y1="446.3" x2="991.8" y2="459.5" stroke="#8A12D0" stroke-width="4.4" />
<line x1="1030.2" y1="464.0" x2="1043.3" y2="464.0" stroke="#8A12D0" stroke-width="4.4" />
<line x1="1036.8" y1="457.4" x2="1036.8" y2="470.6" stroke="#8A12D0" stroke-width="4.4" />
<line x1="1075.1" y1="467.7" x2="1088.3" y2="467.7" stroke="#8A12D0" stroke-width="4.4" />
<line x1="1081.7" y1="461.1" x2="1081.7" y2="474.3" stroke="#8A12D0" stroke-width="4.4" />
<line x1="1165.0" y1="470.5" x2="1178.2" y2="470.5" stroke="#8A12D0" stroke-width="4.4" />
<line x1="1171.6" y1="463.9" x2="1171.6" y2="477.1" stroke="#8A12D0" stroke-width="4.4" />
<line x1="1254.9" y1="471.4" x2="1268.1" y2="471.4" stroke="#8A12D0" stroke-width="4.4" />
<line x1="1261.5" y1="464.8" x2="1261.5" y2="478.0" stroke="#8A12D0" stroke-width="4.4" />
<line x1="1344.8" y1="471.8" x2="1358.0" y2="471.8" stroke="#8A12D0" stroke-width="4.4" />
<line x1="1351.4" y1="465.2" x2="1351.4" y2="478.4" stroke="#8A12D0" stroke-width="4.4" />
<g clip-path="url(#clipB)">
<polyline points="919.4,-38.0 919.9,-12.8 920.3,10.6 920.8,32.4 921.2,52.6 921.7,71.5 922.1,89.1 922.6,105.6 923.0,121.1 923.5,135.6 923.9,149.2 924.4,162.0 924.8,174.0 925.3,185.4 925.7,196.1 926.2,206.3 926.6,215.9 927.1,225.0 927.5,233.6 928.0,241.8 928.4,249.5 928.9,256.9 929.3,263.9 929.8,270.6 930.2,276.9 930.7,283.0 931.1,288.8 931.6,294.3 932.0,299.6 932.5,304.7 932.9,309.5 933.4,314.1 933.8,318.6 934.3,322.8 934.7,326.9 935.2,330.8 935.6,334.5 936.1,338.2 936.5,341.6 937.0,345.0 937.4,348.2 937.9,351.3 938.3,354.2 938.8,357.1 939.2,359.9 939.7,362.5 940.1,365.1 940.6,367.6 941.0,370.0 941.5,372.3 941.9,374.6 942.4,376.7 942.8,378.8 943.3,380.9 943.7,382.8 944.2,384.7 944.6,386.6 945.1,388.3 945.5,390.1 946.0,391.7 946.4,393.4 946.9,394.9 947.3,396.5 947.7,398.0 948.2,399.4 948.6,400.8 949.1,402.2 949.5,403.5 950.0,404.8 950.4,406.0 950.9,407.2 951.3,408.4 951.8,409.6 952.2,410.7 952.7,411.8 953.1,412.8 953.6,413.9 954.0,414.9 954.5,415.9 954.9,416.8 955.4,417.8 955.8,418.7 956.3,419.6 956.7,420.4 957.2,421.3 957.6,422.1 958.1,422.9 958.5,423.7 959.0,424.5 959.4,425.2 959.9,425.9 960.3,426.6 960.8,427.3 961.2,428.0 961.7,428.7 962.1,429.4 962.6,430.0 963.0,430.6 963.5,431.2 963.9,431.8 964.4,432.4 964.8,433.0 965.3,433.5 965.7,434.1 966.2,434.6 966.6,435.2 967.1,435.7 967.5,436.2 968.0,436.7 968.4,437.1 968.9,437.6 969.3,438.1 969.8,438.5 970.2,439.0 970.7,439.4 971.1,439.9 971.6,440.3 972.0,440.7 972.5,441.1 972.9,441.5 973.4,441.9 973.8,442.3 974.3,442.6 974.7,443.0 975.2,443.4 975.6,443.7 976.1,444.1 976.5,444.4 977.0,444.8 977.4,445.1 977.9,445.4 978.3,445.7 978.8,446.0 979.2,446.4 979.7,446.7 980.1,447.0 980.6,447.2 981.0,447.5 981.5,447.8 981.9,448.1 982.4,448.4 982.8,448.6 983.3,448.9 983.7,449.2 984.2,449.4 984.6,449.7 985.1,449.9 985.5,450.2 986.0,450.4 986.4,450.6 986.9,450.9 987.3,451.1 987.8,451.3 988.2,451.5 988.7,451.8 989.1,452.0 989.6,452.2 990.0,452.4 990.5,452.6 990.9,452.8 991.4,453.0 991.8,453.2 992.2,453.4 992.7,453.6 993.1,453.8 993.6,453.9 994.0,454.1 994.5,454.3 994.9,454.5 995.4,454.7 995.8,454.8 996.3,455.0 996.7,455.2 997.2,455.3 997.6,455.5 998.1,455.6 998.5,455.8 999.0,456.0 999.4,456.1 999.9,456.3 1000.3,456.4 1000.8,456.6 1001.2,456.7 1001.7,456.8 1002.1,457.0 1002.6,457.1 1003.0,457.3 1003.5,457.4 1003.9,457.5 1004.4,457.7 1004.8,457.8 1005.3,457.9 1005.7,458.0 1006.2,458.2 1006.6,458.3 1007.1,458.4 1007.5,458.5 1008.0,458.7 1008.4,458.8 1008.9,458.9 1009.3,459.0 1009.8,459.1 1010.2,459.2 1010.7,459.3 1011.1,459.4 1011.6,459.6 1012.0,459.7 1012.5,459.8 1012.9,459.9 1013.4,460.0 1013.8,460.1 1014.3,460.2 1014.7,460.3 1015.2,460.4 1015.6,460.5 1016.1,460.6 1016.5,460.7 1017.0,460.8 1017.4,460.8 1017.9,460.9 1018.3,461.0 1018.8,461.1 1019.2,461.2 1019.7,461.3 1020.1,461.4 1020.6,461.5 1021.0,461.5 1021.5,461.6 1021.9,461.7 1022.4,461.8 1022.8,461.9 1023.3,461.9 1023.7,462.0 1024.2,462.1 1024.6,462.2 1025.1,462.3 1025.5,462.3 1026.0,462.4 1026.4,462.5 1026.9,462.6 1027.3,462.6 1027.8,462.7 1028.2,462.8 1028.7,462.8 1029.1,462.9 1029.6,463.0 1030.0,463.0 1030.5,463.1 1030.9,463.2 1031.4,463.2 1031.8,463.3 1032.3,463.4 1032.7,463.4 1033.2,463.5 1033.6,463.6 1034.1,463.6 1034.5,463.7 1035.0,463.7 1035.4,463.8 1035.9,463.9 1036.3,463.9 1036.8,464.0 1037.2,464.0 1037.6,464.1 1038.1,464.1 1038.5,464.2 1039.0,464.3 1039.4,464.3 1039.9,464.4 1040.3,464.4 1040.8,464.5 1041.2,464.5 1041.7,464.6 1042.1,464.6 1042.6,464.7 1043.0,464.7 1043.5,464.8 1043.9,464.8 1044.4,464.9 1044.8,464.9 1045.3,465.0 1045.7,465.0 1046.2,465.1 1046.6,465.1 1047.1,465.2 1047.5,465.2 1048.0,465.2 1048.4,465.3 1048.9,465.3 1049.3,465.4 1049.8,465.4 1050.2,465.5 1050.7,465.5 1051.1,465.6 1051.6,465.6 1052.0,465.6 1052.5,465.7 1052.9,465.7 1053.4,465.8 1053.8,465.8 1054.3,465.8 1054.7,465.9 1055.2,465.9 1055.6,466.0 1056.1,466.0 1056.5,466.0 1057.0,466.1 1057.4,466.1 1057.9,466.2 1058.3,466.2 1058.8,466.2 1059.2,466.3 1059.7,466.3 1060.1,466.3 1060.6,466.4 1061.0,466.4 1061.5,466.4 1061.9,466.5 1062.4,466.5 1062.8,466.5 1063.3,466.6 1063.7,466.6 1064.2,466.6 1064.6,466.7 1065.1,466.7 1065.5,466.7 1066.0,466.8 1066.4,466.8 1066.9,466.8 1067.3,466.9 1067.8,466.9 1068.2,466.9 1068.7,467.0 1069.1,467.0 1069.6,467.0 1070.0,467.0 1070.5,467.1 1070.9,467.1 1071.4,467.1 1071.8,467.2 1072.3,467.2 1072.7,467.2 1073.2,467.3 1073.6,467.3 1074.1,467.3 1074.5,467.3 1075.0,467.4 1075.4,467.4 1075.9,467.4 1076.3,467.4 1076.8,467.5 1077.2,467.5 1077.7,467.5 1078.1,467.5 1078.6,467.6 1079.0,467.6 1079.5,467.6 1079.9,467.6 1080.4,467.7 1080.8,467.7 1081.3,467.7 1081.7,467.7 1082.1,467.8 1082.6,467.8 1083.0,467.8 1083.5,467.8 1083.9,467.9 1084.4,467.9 1084.8,467.9 1085.3,467.9 1085.7,468.0 1086.2,468.0 1086.6,468.0 1087.1,468.0 1087.5,468.0 1088.0,468.1 1088.4,468.1 1088.9,468.1 1089.3,468.1 1089.8,468.2 1090.2,468.2 1090.7,468.2 1091.1,468.2 1091.6,468.2 1092.0,468.3 1092.5,468.3 1092.9,468.3 1093.4,468.3 1093.8,468.3 1094.3,468.4 1094.7,468.4 1095.2,468.4 1095.6,468.4 1096.1,468.4 1096.5,468.5 1097.0,468.5 1097.4,468.5 1097.9,468.5 1098.3,468.5 1098.8,468.6 1099.2,468.6 1099.7,468.6 1100.1,468.6 1100.6,468.6 1101.0,468.6 1101.5,468.7 1101.9,468.7 1102.4,468.7 1102.8,468.7 1103.3,468.7 1103.7,468.7 1104.2,468.8 1104.6,468.8 1105.1,468.8 1105.5,468.8 1106.0,468.8 1106.4,468.8 1106.9,468.9 1107.3,468.9 1107.8,468.9 1108.2,468.9 1108.7,468.9 1109.1,468.9 1109.6,469.0 1110.0,469.0 1110.5,469.0 1110.9,469.0 1111.4,469.0 1111.8,469.0 1112.3,469.1 1112.7,469.1 1113.2,469.1 1113.6,469.1 1114.1,469.1 1114.5,469.1 1115.0,469.1 1115.4,469.2 1115.9,469.2 1116.3,469.2 1116.8,469.2 1117.2,469.2 1117.7,469.2 1118.1,469.2 1118.6,469.3 1119.0,469.3 1119.5,469.3 1119.9,469.3 1120.4,469.3 1120.8,469.3 1121.3,469.3 1121.7,469.4 1122.2,469.4 1122.6,469.4 1123.1,469.4 1123.5,469.4 1124.0,469.4 1124.4,469.4 1124.9,469.4 1125.3,469.5 1125.8,469.5 1126.2,469.5 1126.7,469.5 1127.1,469.5 1127.5,469.5 1128.0,469.5 1128.4,469.5 1128.9,469.6 1129.3,469.6 1129.8,469.6 1130.2,469.6 1130.7,469.6 1131.1,469.6 1131.6,469.6 1132.0,469.6 1132.5,469.6 1132.9,469.7 1133.4,469.7 1133.8,469.7 1134.3,469.7 1134.7,469.7 1135.2,469.7 1135.6,469.7 1136.1,469.7 1136.5,469.8 1137.0,469.8 1137.4,469.8 1137.9,469.8 1138.3,469.8 1138.8,469.8 1139.2,469.8 1139.7,469.8 1140.1,469.8 1140.6,469.8 1141.0,469.9 1141.5,469.9 1141.9,469.9 1142.4,469.9 1142.8,469.9 1143.3,469.9 1143.7,469.9 1144.2,469.9 1144.6,469.9 1145.1,469.9 1145.5,470.0 1146.0,470.0 1146.4,470.0 1146.9,470.0 1147.3,470.0 1147.8,470.0 1148.2,470.0 1148.7,470.0 1149.1,470.0 1149.6,470.0 1150.0,470.1 1150.5,470.1 1150.9,470.1 1151.4,470.1 1151.8,470.1 1152.3,470.1 1152.7,470.1 1153.2,470.1 1153.6,470.1 1154.1,470.1 1154.5,470.1 1155.0,470.2 1155.4,470.2 1155.9,470.2 1156.3,470.2 1156.8,470.2 1157.2,470.2 1157.7,470.2 1158.1,470.2 1158.6,470.2 1159.0,470.2 1159.5,470.2 1159.9,470.2 1160.4,470.3 1160.8,470.3 1161.3,470.3 1161.7,470.3 1162.2,470.3 1162.6,470.3 1163.1,470.3 1163.5,470.3 1164.0,470.3 1164.4,470.3 1164.9,470.3 1165.3,470.3 1165.8,470.3 1166.2,470.4 1166.7,470.4 1167.1,470.4 1167.6,470.4 1168.0,470.4 1168.5,470.4 1168.9,470.4 1169.4,470.4 1169.8,470.4 1170.3,470.4 1170.7,470.4 1171.2,470.4 1171.6,470.4 1172.0,470.5 1172.5,470.5 1172.9,470.5 1173.4,470.5 1173.8,470.5 1174.3,470.5 1174.7,470.5 1175.2,470.5 1175.6,470.5 1176.1,470.5 1176.5,470.5 1177.0,470.5 1177.4,470.5 1177.9,470.5 1178.3,470.5 1178.8,470.6 1179.2,470.6 1179.7,470.6 1180.1,470.6 1180.6,470.6 1181.0,470.6 1181.5,470.6 1181.9,470.6 1182.4,470.6 1182.8,470.6 1183.3,470.6 1183.7,470.6 1184.2,470.6 1184.6,470.6 1185.1,470.6 1185.5,470.6 1186.0,470.7 1186.4,470.7 1186.9,470.7 1187.3,470.7 1187.8,470.7 1188.2,470.7 1188.7,470.7 1189.1,470.7 1189.6,470.7 1190.0,470.7 1190.5,470.7 1190.9,470.7 1191.4,470.7 1191.8,470.7 1192.3,470.7 1192.7,470.7 1193.2,470.8 1193.6,470.8 1194.1,470.8 1194.5,470.8 1195.0,470.8 1195.4,470.8 1195.9,470.8 1196.3,470.8 1196.8,470.8 1197.2,470.8 1197.7,470.8 1198.1,470.8 1198.6,470.8 1199.0,470.8 1199.5,470.8 1199.9,470.8 1200.4,470.8 1200.8,470.8 1201.3,470.8 1201.7,470.9 1202.2,470.9 1202.6,470.9 1203.1,470.9 1203.5,470.9 1204.0,470.9 1204.4,470.9 1204.9,470.9 1205.3,470.9 1205.8,470.9 1206.2,470.9 1206.7,470.9 1207.1,470.9 1207.6,470.9 1208.0,470.9 1208.5,470.9 1208.9,470.9 1209.4,470.9 1209.8,470.9 1210.3,470.9 1210.7,471.0 1211.2,471.0 1211.6,471.0 1212.1,471.0 1212.5,471.0 1213.0,471.0 1213.4,471.0 1213.9,471.0 1214.3,471.0 1214.8,471.0 1215.2,471.0 1215.7,471.0 1216.1,471.0 1216.6,471.0 1217.0,471.0 1217.4,471.0 1217.9,471.0 1218.3,471.0 1218.8,471.0 1219.2,471.0 1219.7,471.0 1220.1,471.1 1220.6,471.1 1221.0,471.1 1221.5,471.1 1221.9,471.1 1222.4,471.1 1222.8,471.1 1223.3,471.1 1223.7,471.1 1224.2,471.1 1224.6,471.1 1225.1,471.1 1225.5,471.1 1226.0,471.1 1226.4,471.1 1226.9,471.1 1227.3,471.1 1227.8,471.1 1228.2,471.1 1228.7,471.1 1229.1,471.1 1229.6,471.1 1230.0,471.1 1230.5,471.1 1230.9,471.2 1231.4,471.2 1231.8,471.2 1232.3,471.2 1232.7,471.2 1233.2,471.2 1233.6,471.2 1234.1,471.2 1234.5,471.2 1235.0,471.2 1235.4,471.2 1235.9,471.2 1236.3,471.2 1236.8,471.2 1237.2,471.2 1237.7,471.2 1238.1,471.2 1238.6,471.2 1239.0,471.2 1239.5,471.2 1239.9,471.2 1240.4,471.2 1240.8,471.2 1241.3,471.2 1241.7,471.2 1242.2,471.2 1242.6,471.2 1243.1,471.3 1243.5,471.3 1244.0,471.3 1244.4,471.3 1244.9,471.3 1245.3,471.3 1245.8,471.3 1246.2,471.3 1246.7,471.3 1247.1,471.3 1247.6,471.3 1248.0,471.3 1248.5,471.3 1248.9,471.3 1249.4,471.3 1249.8,471.3 1250.3,471.3 1250.7,471.3 1251.2,471.3 1251.6,471.3 1252.1,471.3 1252.5,471.3 1253.0,471.3 1253.4,471.3 1253.9,471.3 1254.3,471.3 1254.8,471.3 1255.2,471.3 1255.7,471.3 1256.1,471.3 1256.6,471.4 1257.0,471.4 1257.5,471.4 1257.9,471.4 1258.4,471.4 1258.8,471.4 1259.3,471.4 1259.7,471.4 1260.2,471.4 1260.6,471.4 1261.1,471.4 1261.5,471.4 1261.9,471.4 1262.4,471.4 1262.8,471.4 1263.3,471.4 1263.7,471.4 1264.2,471.4 1264.6,471.4 1265.1,471.4 1265.5,471.4 1266.0,471.4 1266.4,471.4 1266.9,471.4 1267.3,471.4 1267.8,471.4 1268.2,471.4 1268.7,471.4 1269.1,471.4 1269.6,471.4 1270.0,471.4 1270.5,471.4 1270.9,471.4 1271.4,471.5 1271.8,471.5 1272.3,471.5 1272.7,471.5 1273.2,471.5 1273.6,471.5 1274.1,471.5 1274.5,471.5 1275.0,471.5 1275.4,471.5 1275.9,471.5 1276.3,471.5 1276.8,471.5 1277.2,471.5 1277.7,471.5 1278.1,471.5 1278.6,471.5 1279.0,471.5 1279.5,471.5 1279.9,471.5 1280.4,471.5 1280.8,471.5 1281.3,471.5 1281.7,471.5 1282.2,471.5 1282.6,471.5 1283.1,471.5 1283.5,471.5 1284.0,471.5 1284.4,471.5 1284.9,471.5 1285.3,471.5 1285.8,471.5 1286.2,471.5 1286.7,471.5 1287.1,471.5 1287.6,471.5 1288.0,471.5 1288.5,471.6 1288.9,471.6 1289.4,471.6 1289.8,471.6 1290.3,471.6 1290.7,471.6 1291.2,471.6 1291.6,471.6 1292.1,471.6 1292.5,471.6 1293.0,471.6 1293.4,471.6 1293.9,471.6 1294.3,471.6 1294.8,471.6 1295.2,471.6 1295.7,471.6 1296.1,471.6 1296.6,471.6 1297.0,471.6 1297.5,471.6 1297.9,471.6 1298.4,471.6 1298.8,471.6 1299.3,471.6 1299.7,471.6 1300.2,471.6 1300.6,471.6 1301.1,471.6 1301.5,471.6 1302.0,471.6 1302.4,471.6 1302.9,471.6 1303.3,471.6 1303.8,471.6 1304.2,471.6 1304.7,471.6 1305.1,471.6 1305.6,471.6 1306.0,471.6 1306.5,471.6 1306.9,471.6 1307.3,471.6 1307.8,471.6 1308.2,471.6 1308.7,471.7 1309.1,471.7 1309.6,471.7 1310.0,471.7 1310.5,471.7 1310.9,471.7 1311.4,471.7 1311.8,471.7 1312.3,471.7 1312.7,471.7 1313.2,471.7 1313.6,471.7 1314.1,471.7 1314.5,471.7 1315.0,471.7 1315.4,471.7 1315.9,471.7 1316.3,471.7 1316.8,471.7 1317.2,471.7 1317.7,471.7 1318.1,471.7 1318.6,471.7 1319.0,471.7 1319.5,471.7 1319.9,471.7 1320.4,471.7 1320.8,471.7 1321.3,471.7 1321.7,471.7 1322.2,471.7 1322.6,471.7 1323.1,471.7 1323.5,471.7 1324.0,471.7 1324.4,471.7 1324.9,471.7 1325.3,471.7 1325.8,471.7 1326.2,471.7 1326.7,471.7 1327.1,471.7 1327.6,471.7 1328.0,471.7 1328.5,471.7 1328.9,471.7 1329.4,471.7 1329.8,471.7 1330.3,471.7 1330.7,471.7 1331.2,471.7 1331.6,471.8 1332.1,471.8 1332.5,471.8 1333.0,471.8 1333.4,471.8 1333.9,471.8 1334.3,471.8 1334.8,471.8 1335.2,471.8 1335.7,471.8 1336.1,471.8 1336.6,471.8 1337.0,471.8 1337.5,471.8 1337.9,471.8 1338.4,471.8 1338.8,471.8 1339.3,471.8 1339.7,471.8 1340.2,471.8 1340.6,471.8 1341.1,471.8 1341.5,471.8 1342.0,471.8 1342.4,471.8 1342.9,471.8 1343.3,471.8 1343.8,471.8 1344.2,471.8 1344.7,471.8 1345.1,471.8 1345.6,471.8 1346.0,471.8 1346.5,471.8 1346.9,471.8 1347.4,471.8 1347.8,471.8 1348.3,471.8 1348.7,471.8 1349.2,471.8 1349.6,471.8 1350.1,471.8 1350.5,471.8 1351.0,471.8 1351.4,471.8" fill="none" stroke="#12A07A" stroke-width="2.7" stroke-linejoin="round" stroke-linecap="butt"/>
</g>
<text transform="translate(893.8,475.9) scale(0.955,1)" font-family='"Liberation Sans", sans-serif' font-size="32" text-anchor="end" fill="#000" stroke="#000" stroke-width="0.3">0</text>
<text transform="translate(889.8,420.4) scale(0.955,1)" font-family='"Liberation Sans", sans-serif' font-size="32" text-anchor="end" fill="#000" stroke="#000" stroke-width="0.3">2000</text>
<text transform="translate(889.8,365.0) scale(0.955,1)" font-family='"Liberation Sans", sans-serif' font-size="32" text-anchor="end" fill="#000" stroke="#000" stroke-width="0.3">4000</text>
<text transform="translate(889.8,309.5) scale(0.955,1)" font-family='"Liberation Sans", sans-serif' font-size="32" text-anchor="end" fill="#000" stroke="#000" stroke-width="0.3">6000</text>
<text transform="translate(889.8,254.1) scale(0.955,1)" font-family='"Liberation Sans", sans-serif' font-size="32" text-anchor="end" fill="#000" stroke="#000" stroke-width="0.3">8000</text>
<text transform="translate(889.8,198.6) scale(0.955,1)" font-family='"Liberation Sans", sans-serif' font-size="32" text-anchor="end" fill="#000" stroke="#000" stroke-width="0.3">10000</text>
<text transform="translate(889.8,143.2) scale(0.955,1)" font-family='"Liberation Sans", sans-serif' font-size="32" text-anchor="end" fill="#000" stroke="#000" stroke-width="0.3">12000</text>
<text transform="translate(889.8,87.7) scale(0.955,1)" font-family='"Liberation Sans", sans-serif' font-size="32" text-anchor="end" fill="#000" stroke="#000" stroke-width="0.3">14000</text>
<text transform="translate(889.8,32.3) scale(0.955,1)" font-family='"Liberation Sans", sans-serif' font-size="32" text-anchor="end" fill="#000" stroke="#000" stroke-width="0.3">16000</text>
<text transform="translate(906.0,511.0) scale(0.945,1)" font-family='"Liberation Sans", sans-serif' font-size="31.2" text-anchor="middle" fill="#000"  stroke="#000" stroke-width="0.35">0</text>
<text transform="translate(983.5,511.0) scale(0.945,1)" font-family='"Liberation Sans", sans-serif' font-size="31.2" text-anchor="middle" fill="#000"  stroke="#000" stroke-width="0.35">0.1</text>
<text transform="translate(1074.0,511.0) scale(0.945,1)" font-family='"Liberation Sans", sans-serif' font-size="31.2" text-anchor="middle" fill="#000"  stroke="#000" stroke-width="0.35">0.2</text>
<text transform="translate(1164.1,511.0) scale(0.945,1)" font-family='"Liberation Sans", sans-serif' font-size="31.2" text-anchor="middle" fill="#000"  stroke="#000" stroke-width="0.35">0.3</text>
<text transform="translate(1253.7,511.0) scale(0.945,1)" font-family='"Liberation Sans", sans-serif' font-size="31.2" text-anchor="middle" fill="#000"  stroke="#000" stroke-width="0.35">0.4</text>
<text transform="translate(1344.0,511.0) scale(0.945,1)" font-family='"Liberation Sans", sans-serif' font-size="31.2" text-anchor="middle" fill="#000"  stroke="#000" stroke-width="0.35">0.5</text>
<rect x="1082.8" y="50.6" width="220.79999999999995" height="225.4" fill="#fff" stroke="none"/>
<clipPath id="clipI"><rect x="1082.8" y="50.6" width="223.79999999999995" height="225.79999999999998"/></clipPath>
<rect x="1082.8" y="50.6" width="220.79999999999995" height="225.4" fill="none" stroke="#000" stroke-width="2.8"/>
<text transform="translate(1069.5,277.1) scale(1.0,1)" font-family='"Liberation Sans", sans-serif' font-size="23.6" text-anchor="end" fill="#000" stroke="#000" stroke-width="0.3">0</text>
<line x1="1082.8" y1="229.6" x2="1092.8" y2="229.6" stroke="#000" stroke-width="2.3" />
<line x1="1303.6" y1="229.6" x2="1293.6" y2="229.6" stroke="#000" stroke-width="2.3" />
<text transform="translate(1069.5,235.2) scale(1.0,1)" font-family='"Liberation Sans", sans-serif' font-size="23.6" text-anchor="end" fill="#000" stroke="#000" stroke-width="0.3">200</text>
<line x1="1082.8" y1="184.9" x2="1092.8" y2="184.9" stroke="#000" stroke-width="2.3" />
<line x1="1303.6" y1="184.9" x2="1293.6" y2="184.9" stroke="#000" stroke-width="2.3" />
<text transform="translate(1069.5,193.3) scale(1.0,1)" font-family='"Liberation Sans", sans-serif' font-size="23.6" text-anchor="end" fill="#000" stroke="#000" stroke-width="0.3">400</text>
<line x1="1082.8" y1="140.1" x2="1092.8" y2="140.1" stroke="#000" stroke-width="2.3" />
<line x1="1303.6" y1="140.1" x2="1293.6" y2="140.1" stroke="#000" stroke-width="2.3" />
<text transform="translate(1069.5,151.4) scale(1.0,1)" font-family='"Liberation Sans", sans-serif' font-size="23.6" text-anchor="end" fill="#000" stroke="#000" stroke-width="0.3">600</text>
<line x1="1082.8" y1="95.4" x2="1092.8" y2="95.4" stroke="#000" stroke-width="2.3" />
<line x1="1303.6" y1="95.4" x2="1293.6" y2="95.4" stroke="#000" stroke-width="2.3" />
<text transform="translate(1069.5,109.5) scale(1.0,1)" font-family='"Liberation Sans", sans-serif' font-size="23.6" text-anchor="end" fill="#000" stroke="#000" stroke-width="0.3">800</text>
<text transform="translate(1069.5,67.6) scale(1.0,1)" font-family='"Liberation Sans", sans-serif' font-size="23.6" text-anchor="end" fill="#000" stroke="#000" stroke-width="0.3">1000</text>
<line x1="1118.6" y1="276.0" x2="1118.6" y2="264.4" stroke="#000" stroke-width="2.3" />
<line x1="1118.6" y1="50.6" x2="1118.6" y2="61.6" stroke="#000" stroke-width="2.3" />
<text transform="translate(1111.3,308.9) scale(1.0,1)" font-family='"Liberation Sans", sans-serif' font-size="23.6" text-anchor="middle" fill="#000" stroke="#000" stroke-width="0.3">0.1</text>
<line x1="1165.1" y1="276.0" x2="1165.1" y2="264.4" stroke="#000" stroke-width="2.3" />
<line x1="1165.1" y1="50.6" x2="1165.1" y2="61.6" stroke="#000" stroke-width="2.3" />
<text transform="translate(1158.6,308.9) scale(1.0,1)" font-family='"Liberation Sans", sans-serif' font-size="23.6" text-anchor="middle" fill="#000" stroke="#000" stroke-width="0.3">0.2</text>
<line x1="1211.6" y1="276.0" x2="1211.6" y2="264.4" stroke="#000" stroke-width="2.3" />
<line x1="1211.6" y1="50.6" x2="1211.6" y2="61.6" stroke="#000" stroke-width="2.3" />
<text transform="translate(1205.9,308.9) scale(1.0,1)" font-family='"Liberation Sans", sans-serif' font-size="23.6" text-anchor="middle" fill="#000" stroke="#000" stroke-width="0.3">0.3</text>
<line x1="1258.1" y1="276.0" x2="1258.1" y2="264.4" stroke="#000" stroke-width="2.3" />
<line x1="1258.1" y1="50.6" x2="1258.1" y2="61.6" stroke="#000" stroke-width="2.3" />
<text transform="translate(1253.2,308.9) scale(1.0,1)" font-family='"Liberation Sans", sans-serif' font-size="23.6" text-anchor="middle" fill="#000" stroke="#000" stroke-width="0.3">0.4</text>
<text transform="translate(1300.5,308.9) scale(1.0,1)" font-family='"Liberation Sans", sans-serif' font-size="23.6" text-anchor="middle" fill="#000" stroke="#000" stroke-width="0.3">0.5</text>
<line x1="1112.0" y1="123.0" x2="1125.2" y2="123.0" stroke="#8A12D0" stroke-width="4.2" />
<line x1="1118.6" y1="116.4" x2="1118.6" y2="129.6" stroke="#8A12D0" stroke-width="4.2" />
<line x1="1135.2" y1="207.7" x2="1148.4" y2="207.7" stroke="#8A12D0" stroke-width="4.2" />
<line x1="1141.8" y1="201.1" x2="1141.8" y2="214.3" stroke="#8A12D0" stroke-width="4.2" />
<line x1="1158.5" y1="235.8" x2="1171.7" y2="235.8" stroke="#8A12D0" stroke-width="4.2" />
<line x1="1165.1" y1="229.2" x2="1165.1" y2="242.4" stroke="#8A12D0" stroke-width="4.2" />
<line x1="1205.0" y1="257.0" x2="1218.2" y2="257.0" stroke="#8A12D0" stroke-width="4.2" />
<line x1="1211.6" y1="250.4" x2="1211.6" y2="263.6" stroke="#8A12D0" stroke-width="4.2" />
<line x1="1251.5" y1="264.4" x2="1264.7" y2="264.4" stroke="#8A12D0" stroke-width="4.2" />
<line x1="1258.1" y1="257.8" x2="1258.1" y2="271.0" stroke="#8A12D0" stroke-width="4.2" />
<line x1="1298.0" y1="268.4" x2="1311.2" y2="268.4" stroke="#8A12D0" stroke-width="4.2" />
<line x1="1304.6" y1="261.8" x2="1304.6" y2="275.0" stroke="#8A12D0" stroke-width="4.2" />
<g clip-path="url(#clipI)">
<polyline points="1104.6,-32.2 1105.6,-15.4 1106.5,0.1 1107.4,14.3 1108.4,27.5 1109.3,39.7 1110.2,51.0 1111.2,61.5 1112.1,71.3 1113.0,80.4 1113.9,89.0 1114.9,96.9 1115.8,104.4 1116.7,111.4 1117.7,118.0 1118.6,124.2 1119.5,130.0 1120.5,135.5 1121.4,140.7 1122.3,145.6 1123.2,150.3 1124.2,154.7 1125.1,158.8 1126.0,162.8 1127.0,166.5 1127.9,170.1 1128.8,173.5 1129.8,176.7 1130.7,179.8 1131.6,182.7 1132.5,185.5 1133.5,188.2 1134.4,190.7 1135.3,193.2 1136.3,195.5 1137.2,197.8 1138.1,199.9 1139.1,202.0 1140.0,203.9 1140.9,205.8 1141.8,207.6 1142.8,209.4 1143.7,211.1 1144.6,212.7 1145.6,214.2 1146.5,215.7 1147.4,217.2 1148.4,218.6 1149.3,219.9 1150.2,221.2 1151.1,222.4 1152.1,223.6 1153.0,224.8 1153.9,225.9 1154.9,227.0 1155.8,228.0 1156.7,229.1 1157.7,230.0 1158.6,231.0 1159.5,231.9 1160.5,232.8 1161.4,233.7 1162.3,234.5 1163.2,235.3 1164.2,236.1 1165.1,236.8 1166.0,237.6 1167.0,238.3 1167.9,239.0 1168.8,239.7 1169.8,240.3 1170.7,241.0 1171.6,241.6 1172.5,242.2 1173.5,242.8 1174.4,243.4 1175.3,243.9 1176.3,244.5 1177.2,245.0 1178.1,245.5 1179.0,246.0 1180.0,246.5 1180.9,247.0 1181.8,247.4 1182.8,247.9 1183.7,248.3 1184.6,248.8 1185.6,249.2 1186.5,249.6 1187.4,250.0 1188.3,250.4 1189.3,250.7 1190.2,251.1 1191.1,251.5 1192.1,251.8 1193.0,252.2 1193.9,252.5 1194.9,252.8 1195.8,253.2 1196.7,253.5 1197.7,253.8 1198.6,254.1 1199.5,254.4 1200.4,254.7 1201.4,255.0 1202.3,255.2 1203.2,255.5 1204.2,255.8 1205.1,256.0 1206.0,256.3 1207.0,256.5 1207.9,256.8 1208.8,257.0 1209.7,257.3 1210.7,257.5 1211.6,257.7 1212.5,257.9 1213.5,258.1 1214.4,258.4 1215.3,258.6 1216.2,258.8 1217.2,259.0 1218.1,259.2 1219.0,259.4 1220.0,259.5 1220.9,259.7 1221.8,259.9 1222.8,260.1 1223.7,260.3 1224.6,260.4 1225.5,260.6 1226.5,260.8 1227.4,260.9 1228.3,261.1 1229.3,261.3 1230.2,261.4 1231.1,261.6 1232.1,261.7 1233.0,261.9 1233.9,262.0 1234.8,262.1 1235.8,262.3 1236.7,262.4 1237.6,262.5 1238.6,262.7 1239.5,262.8 1240.4,262.9 1241.4,263.1 1242.3,263.2 1243.2,263.3 1244.2,263.4 1245.1,263.5 1246.0,263.7 1246.9,263.8 1247.9,263.9 1248.8,264.0 1249.7,264.1 1250.7,264.2 1251.6,264.3 1252.5,264.4 1253.5,264.5 1254.4,264.6 1255.3,264.7 1256.2,264.8 1257.2,264.9 1258.1,265.0 1259.0,265.1 1260.0,265.2 1260.9,265.3 1261.8,265.4 1262.8,265.5 1263.7,265.6 1264.6,265.6 1265.5,265.7 1266.5,265.8 1267.4,265.9 1268.3,266.0 1269.3,266.0 1270.2,266.1 1271.1,266.2 1272.0,266.3 1273.0,266.4 1273.9,266.4 1274.8,266.5 1275.8,266.6 1276.7,266.6 1277.6,266.7 1278.6,266.8 1279.5,266.8 1280.4,266.9 1281.4,267.0 1282.3,267.0 1283.2,267.1 1284.1,267.2 1285.1,267.2 1286.0,267.3 1286.9,267.4 1287.9,267.4 1288.8,267.5 1289.7,267.5 1290.7,267.6 1291.6,267.7 1292.5,267.7 1293.4,267.8 1294.4,267.8 1295.3,267.9 1296.2,267.9 1297.2,268.0 1298.1,268.0 1299.0,268.1 1300.0,268.1 1300.9,268.2 1301.8,268.2 1302.7,268.3 1303.7,268.3 1304.6,268.4" fill="none" stroke="#12A07A" stroke-width="2.7" stroke-linejoin="round" stroke-linecap="butt"/>
</g>
<text transform="translate(1113.20,391.65) scale(0.3815,0.3716)" font-family='"Liberation Serif", serif' font-size="100" font-style="italic" fill="#000"  stroke="#000" stroke-width="0.80" stroke-linejoin="round">λ</text>
<text transform="translate(1131.21,399.53) scale(0.3034,0.2709)" font-family='"Liberation Serif", serif' font-size="100" font-style="italic" letter-spacing="6.39" fill="#000" stroke="#000" stroke-width="1.04" stroke-linejoin="round">loc</text>
<text transform="translate(1187.23,393.50) scale(0.4731,0.3760)" font-family='"Liberation Serif", serif' font-size="100" fill="#000"  stroke="#000" stroke-width="1.88" stroke-linejoin="round">=</text>
<line x1="1226.1" y1="380.5" x2="1282.6" y2="380.5" stroke="#000" stroke-width="2.5" />
<text transform="translate(1228.94,361.93) scale(0.4137,0.3809)" font-family='"Liberation Serif", serif' font-size="100" fill="#000" >6.8</text>
<text transform="translate(1228.77,418.04) scale(0.4768,0.3583)" font-family='"Liberation Serif", serif' font-size="100" font-style="italic" fill="#000" >σ</text>
<text transform="translate(1250.07,425.22) scale(0.3141,0.2812)" font-family='"Liberation Serif", serif' font-size="100" font-style="italic" fill="#000" >ε</text>
<text transform="translate(1266.49,405.75) scale(0.2957,0.2506)" font-family='"Liberation Serif", serif' font-size="100" fill="#000"  stroke="#000" stroke-width="1.10" stroke-linejoin="round">2</text>
<text transform="translate(1112.73,561.68) scale(0.4307,0.3953)" font-family='"Liberation Sans", sans-serif' font-size="100" font-style="italic" fill="#000"  stroke="#000" stroke-width="0.61" stroke-linejoin="round">σ</text>
<text transform="translate(1138.15,571.74) scale(0.3000,0.2594)" font-family='"Liberation Sans", sans-serif' font-size="100" fill="#000" >ε</text>
<text transform="translate(782.50,273.21) rotate(-90) scale(0.3736,0.4105)" font-family='"DejaVu Sans", "Liberation Sans", sans-serif' font-size="100" font-style="italic" fill="#000">λ</text>
<text transform="translate(793.01,253.58) rotate(-90) scale(0.2934,0.2898)" font-family='"Liberation Sans", sans-serif' font-size="100" fill="#000">loc</text>
<text transform="translate(725.0,41.7) scale(1,1)" font-family='"Liberation Sans", sans-serif' font-size="52" text-anchor="start" fill="#000" letter-spacing="0.8">(b)</text>
</g>
<g id="panelC">
<polyline points="1520.7,428.4 1521.7,426.4 1522.7,424.3 1523.7,422.3 1524.7,420.3 1525.7,418.2 1526.7,416.2 1527.7,414.2 1528.7,412.2 1529.7,410.1 1530.7,408.1 1531.7,406.1 1532.7,404.0 1533.7,402.0 1534.7,400.0 1535.7,397.9 1536.7,395.9 1537.7,393.9 1538.7,391.8 1539.7,389.8 1540.7,387.8 1541.7,385.7 1542.7,383.7 1543.7,381.7 1544.7,379.7 1545.7,377.6 1546.7,375.6 1547.7,373.6 1548.7,371.5 1549.7,369.5 1550.7,367.5 1551.7,365.4 1552.7,363.4 1553.7,361.4 1554.7,359.3 1555.7,357.3 1556.7,355.3 1557.7,353.2 1558.7,351.2 1559.7,349.2 1560.7,347.1 1561.7,345.1 1562.7,343.1 1563.7,341.1 1564.7,339.0 1565.7,337.0 1566.7,335.0 1567.7,332.9 1568.7,330.9 1569.7,328.9 1570.7,326.8 1571.7,324.8 1572.7,322.8 1573.7,320.7 1574.7,318.7 1575.7,316.7 1576.7,314.6 1577.7,312.6 1578.7,310.6 1579.7,308.5 1580.7,306.5 1581.7,304.5 1582.7,302.5 1583.7,300.4 1584.7,298.4 1585.7,296.4 1586.7,294.3 1587.7,292.3 1588.7,290.3 1589.7,288.2 1590.7,286.2 1591.7,284.2 1592.7,282.1 1593.7,280.1 1594.7,278.1 1595.7,276.0 1596.7,274.0 1597.7,272.0 1598.7,269.9 1599.7,267.9 1600.7,265.9 1601.7,263.8 1602.7,261.8 1603.7,259.8 1604.7,257.7 1605.7,255.7 1606.7,253.6 1607.7,251.5 1608.7,249.5 1609.7,247.4 1610.7,245.4 1611.7,243.3 1612.7,241.2 1613.7,239.1 1614.7,237.1 1615.7,235.0 1616.7,232.9 1617.7,230.8 1618.7,228.8 1619.7,226.7 1620.7,224.6 1621.7,222.5 1622.7,220.4 1623.7,218.3 1624.7,216.3 1625.7,214.2 1626.7,212.1 1627.7,210.0 1628.7,207.9 1629.7,205.9 1630.7,203.8 1631.7,201.7 1632.7,199.6 1633.7,197.5 1634.7,195.5 1635.7,193.4 1636.7,191.3 1637.7,189.2 1638.7,187.2 1639.7,185.1 1640.7,183.0 1641.7,181.0 1642.7,178.9 1643.7,176.9 1644.7,174.8 1645.7,172.8 1646.7,170.7 1647.7,168.7 1648.7,166.7 1649.7,164.6 1650.7,162.6 1651.7,160.6 1652.7,158.6 1653.7,156.5 1654.7,154.5 1655.7,152.5 1656.7,150.5 1657.7,148.5 1658.7,146.5 1659.7,144.6 1660.7,142.6 1661.7,140.6 1662.7,138.6 1663.7,136.7 1664.7,134.7 1665.7,132.8 1666.7,130.9 1667.7,128.9 1668.7,127.0 1669.7,125.1 1670.7,123.2 1671.7,121.3 1672.7,119.4 1673.7,117.5 1674.7,115.6 1675.7,113.8 1676.7,111.9 1677.7,110.1 1678.7,108.3 1679.7,106.4 1680.7,104.6 1681.7,102.9 1682.7,101.1 1683.7,99.3 1684.7,97.6 1685.7,95.8 1686.7,94.1 1687.7,92.3 1688.7,90.6 1689.7,88.9 1690.7,87.2 1691.7,85.5 1692.7,83.8 1693.7,82.1 1694.7,80.4 1695.7,78.8 1696.7,77.1 1697.7,75.5 1698.7,74.0 1699.7,72.4 1700.7,71.0 1701.7,69.5 1702.7,68.1 1703.7,66.7 1704.7,65.3 1705.7,64.0 1706.7,62.7 1707.7,61.4 1708.7,60.1 1709.7,58.9 1710.7,57.6 1711.7,56.4 1712.7,55.2 1713.7,54.0 1714.7,52.9 1715.7,51.8 1716.7,50.8 1717.7,49.9 1718.7,49.0 1719.7,48.2 1720.7,47.4 1721.7,46.6 1722.7,45.9 1723.7,45.2 1724.7,44.5 1725.7,43.9 1726.7,43.3 1727.7,42.8 1728.7,42.3 1729.7,41.8 1730.7,41.3 1731.7,40.8 1732.7,40.4 1733.7,40.0 1734.7,39.7 1735.7,39.4 1736.7,39.2 1737.7,39.0 1738.7,38.8 1739.7,38.6 1740.7,38.5 1741.7,38.3 1742.7,38.2 1743.7,38.1 1744.7,38.0 1745.7,38.0 1746.7,38.0 1747.7,37.9 1748.7,37.9 1749.7,37.9 1750.7,37.8 1751.7,37.8 1752.7,37.8 1753.7,37.8 1754.7,37.8 1755.7,37.8 1756.7,37.7 1757.7,37.7 1758.7,37.7 1759.7,37.7 1760.7,37.7 1761.7,37.7 1762.7,37.7 1763.7,37.6 1764.7,37.6 1765.7,37.6 1766.7,37.6 1767.7,37.6 1768.7,37.6 1769.7,37.5 1770.7,37.5 1771.7,37.5 1772.7,37.5 1773.7,37.5 1774.7,37.5 1775.7,37.4 1776.7,37.4 1777.7,37.4 1778.7,37.4 1779.7,37.4 1780.7,37.4 1781.7,37.4 1782.7,37.3 1783.7,37.3 1784.7,37.3 1785.7,37.3 1786.7,37.3 1787.7,37.3 1788.7,37.2 1789.7,37.2 1790.7,37.2 1791.7,37.2 1792.7,37.2 1793.7,37.2 1794.7,37.1 1795.7,37.1 1796.7,37.1 1797.7,37.1 1798.7,37.1 1799.7,37.1 1800.7,37.1 1801.7,37.0 1802.7,37.0 1803.7,37.0 1804.7,37.0 1805.7,37.0 1806.7,37.0 1807.7,36.9 1808.7,36.9 1809.7,36.9 1810.7,36.9 1811.7,36.9 1812.7,36.9 1813.7,36.9 1814.7,36.8 1815.7,36.8 1816.7,36.8 1817.7,36.8 1818.7,36.8 1819.7,36.8 1820.7,36.8 1821.7,36.7 1822.7,36.7 1823.7,36.7 1824.7,36.7 1825.7,36.7 1826.7,36.7 1827.7,36.7 1828.7,36.6 1829.7,36.6 1830.7,36.6 1831.7,36.6 1832.7,36.6 1833.7,36.6 1834.7,36.6 1835.7,36.5 1836.7,36.5 1837.7,36.5 1838.7,36.5 1839.7,36.5 1840.7,36.5 1841.7,36.5 1842.7,36.4 1843.7,36.4 1844.7,36.4 1845.7,36.4 1846.7,36.4 1847.7,36.4 1848.7,36.4 1849.7,36.4 1850.7,36.3 1851.7,36.3 1852.7,36.3 1853.7,36.3 1854.7,36.3 1855.7,36.3 1856.7,36.3 1857.7,36.3 1858.7,36.2 1859.7,36.2 1860.7,36.2 1861.7,36.2 1862.7,36.2 1863.7,36.2 1864.7,36.2 1865.7,36.2 1866.7,36.1 1867.7,36.1 1868.7,36.1 1869.7,36.1 1870.7,36.1 1871.7,36.1 1872.7,36.1 1873.7,36.1 1874.7,36.1 1875.7,36.0 1876.7,36.0 1877.7,36.0 1878.7,36.0 1879.7,36.0 1880.7,36.0 1881.7,36.0 1882.7,36.0 1883.7,36.0 1884.7,35.9 1885.7,35.9 1886.7,35.9 1887.7,35.9 1888.7,35.9 1889.7,35.9 1890.7,35.9 1891.7,35.9 1892.7,35.9 1893.7,35.9 1894.7,35.9 1895.7,35.8 1896.7,35.8 1897.7,35.8 1898.7,35.8 1899.7,35.8 1900.7,35.8 1901.7,35.8 1902.7,35.8 1903.7,35.8 1904.7,35.8 1905.7,35.8 1906.7,35.7 1907.7,35.7 1908.7,35.7 1909.7,35.7 1910.7,35.7 1911.7,35.7 1912.7,35.7 1913.7,35.7 1914.7,35.7 1915.7,35.7 1916.7,35.7 1917.7,35.7 1918.7,35.7 1919.7,35.6 1920.7,35.6 1921.7,35.6 1922.7,35.6 1923.7,35.6 1924.7,35.6 1925.7,35.6 1926.7,35.6 1927.7,35.6 1928.7,35.6 1929.7,35.6 1930.7,35.6 1931.7,35.6 1932.7,35.6 1933.7,35.6 1934.7,35.6 1935.7,35.6 1936.7,35.5 1937.7,35.5 1938.7,35.5 1939.7,35.5 1940.7,35.5 1941.7,35.5 1942.7,35.5 1943.7,35.5 1944.7,35.5 1945.7,35.5 1946.7,35.5 1947.7,35.5" fill="none" stroke="#9418DC" stroke-width="2.5" stroke-linejoin="round" stroke-linecap="butt"/>
<rect x="1508.8" y="12.0" width="454.4000000000001" height="461.0" fill="none" stroke="#000" stroke-width="2.8"/>
<line x1="1565.6" y1="473.0" x2="1565.6" y2="462.0" stroke="#000" stroke-width="2.3" />
<line x1="1565.6" y1="12.0" x2="1565.6" y2="23.5" stroke="#000" stroke-width="2.3" />
<line x1="1622.4" y1="473.0" x2="1622.4" y2="462.0" stroke="#000" stroke-width="2.3" />
<line x1="1622.4" y1="12.0" x2="1622.4" y2="23.5" stroke="#000" stroke-width="2.3" />
<line x1="1679.2" y1="473.0" x2="1679.2" y2="462.0" stroke="#000" stroke-width="2.3" />
<line x1="1679.2" y1="12.0" x2="1679.2" y2="23.5" stroke="#000" stroke-width="2.3" />
<line x1="1736.0" y1="473.0" x2="1736.0" y2="462.0" stroke="#000" stroke-width="2.3" />
<line x1="1736.0" y1="12.0" x2="1736.0" y2="23.5" stroke="#000" stroke-width="2.3" />
<line x1="1792.8" y1="473.0" x2="1792.8" y2="462.0" stroke="#000" stroke-width="2.3" />
<line x1="1792.8" y1="12.0" x2="1792.8" y2="23.5" stroke="#000" stroke-width="2.3" />
<line x1="1849.6" y1="473.0" x2="1849.6" y2="462.0" stroke="#000" stroke-width="2.3" />
<line x1="1849.6" y1="12.0" x2="1849.6" y2="23.5" stroke="#000" stroke-width="2.3" />
<line x1="1906.4" y1="473.0" x2="1906.4" y2="462.0" stroke="#000" stroke-width="2.3" />
<line x1="1906.4" y1="12.0" x2="1906.4" y2="23.5" stroke="#000" stroke-width="2.3" />
<line x1="1508.8" y1="58.1" x2="1520.3" y2="58.1" stroke="#000" stroke-width="2.3" />
<line x1="1963.2" y1="58.1" x2="1952.7" y2="58.1" stroke="#000" stroke-width="2.3" />
<line x1="1508.8" y1="104.2" x2="1520.3" y2="104.2" stroke="#000" stroke-width="2.3" />
<line x1="1963.2" y1="104.2" x2="1952.7" y2="104.2" stroke="#000" stroke-width="2.3" />
<line x1="1508.8" y1="150.3" x2="1520.3" y2="150.3" stroke="#000" stroke-width="2.3" />
<line x1="1963.2" y1="150.3" x2="1952.7" y2="150.3" stroke="#000" stroke-width="2.3" />
<line x1="1508.8" y1="196.4" x2="1520.3" y2="196.4" stroke="#000" stroke-width="2.3" />
<line x1="1963.2" y1="196.4" x2="1952.7" y2="196.4" stroke="#000" stroke-width="2.3" />
<line x1="1508.8" y1="242.5" x2="1520.3" y2="242.5" stroke="#000" stroke-width="2.3" />
<line x1="1963.2" y1="242.5" x2="1952.7" y2="242.5" stroke="#000" stroke-width="2.3" />
<line x1="1508.8" y1="288.6" x2="1520.3" y2="288.6" stroke="#000" stroke-width="2.3" />
<line x1="1963.2" y1="288.6" x2="1952.7" y2="288.6" stroke="#000" stroke-width="2.3" />
<line x1="1508.8" y1="334.7" x2="1520.3" y2="334.7" stroke="#000" stroke-width="2.3" />
<line x1="1963.2" y1="334.7" x2="1952.7" y2="334.7" stroke="#000" stroke-width="2.3" />
<line x1="1508.8" y1="380.8" x2="1520.3" y2="380.8" stroke="#000" stroke-width="2.3" />
<line x1="1963.2" y1="380.8" x2="1952.7" y2="380.8" stroke="#000" stroke-width="2.3" />
<line x1="1508.8" y1="426.9" x2="1520.3" y2="426.9" stroke="#000" stroke-width="2.3" />
<line x1="1963.2" y1="426.9" x2="1952.7" y2="426.9" stroke="#000" stroke-width="2.3" />
<text transform="translate(1490.9,33.0) scale(0.958,1)" font-family='"Liberation Sans", sans-serif' font-size="30.8" text-anchor="end" fill="#000"  stroke="#000" stroke-width="0.35">0</text>
<text transform="translate(1490.9,78.2) scale(0.958,1)" font-family='"Liberation Sans", sans-serif' font-size="30.8" text-anchor="end" fill="#000"  stroke="#000" stroke-width="0.35">-2</text>
<text transform="translate(1490.9,122.3) scale(0.958,1)" font-family='"Liberation Sans", sans-serif' font-size="30.8" text-anchor="end" fill="#000"  stroke="#000" stroke-width="0.35">-4</text>
<text transform="translate(1490.9,166.4) scale(0.958,1)" font-family='"Liberation Sans", sans-serif' font-size="30.8" text-anchor="end" fill="#000"  stroke="#000" stroke-width="0.35">-6</text>
<text transform="translate(1490.9,209.6) scale(0.958,1)" font-family='"Liberation Sans", sans-serif' font-size="30.8" text-anchor="end" fill="#000"  stroke="#000" stroke-width="0.35">-8</text>
<text transform="translate(1490.9,253.8) scale(0.958,1)" font-family='"Liberation Sans", sans-serif' font-size="30.8" text-anchor="end" fill="#000"  stroke="#000" stroke-width="0.35">-10</text>
<text transform="translate(1490.9,297.9) scale(0.958,1)" font-family='"Liberation Sans", sans-serif' font-size="30.8" text-anchor="end" fill="#000"  stroke="#000" stroke-width="0.35">-12</text>
<text transform="translate(1490.9,342.1) scale(0.958,1)" font-family='"Liberation Sans", sans-serif' font-size="30.8" text-anchor="end" fill="#000"  stroke="#000" stroke-width="0.35">-14</text>
<text transform="translate(1490.9,386.2) scale(0.958,1)" font-family='"Liberation Sans", sans-serif' font-size="30.8" text-anchor="end" fill="#000"  stroke="#000" stroke-width="0.35">-16</text>
<text transform="translate(1490.9,430.3) scale(0.958,1)" font-family='"Liberation Sans", sans-serif' font-size="30.8" text-anchor="end" fill="#000"  stroke="#000" stroke-width="0.35">-18</text>
<text transform="translate(1490.9,474.5) scale(0.958,1)" font-family='"Liberation Sans", sans-serif' font-size="30.8" text-anchor="end" fill="#000"  stroke="#000" stroke-width="0.35">-20</text>
<text transform="translate(1499.3,511.6) scale(0.92,1)" font-family='"Liberation Sans", sans-serif' font-size="32" text-anchor="middle" fill="#000"  stroke="#000" stroke-width="0.35">-20</text>
<text transform="translate(1562.6,511.6) scale(0.92,1)" font-family='"Liberation Sans", sans-serif' font-size="32" text-anchor="middle" fill="#000"  stroke="#000" stroke-width="0.35">-15</text>
<text transform="translate(1621.5,511.6) scale(0.92,1)" font-family='"Liberation Sans", sans-serif' font-size="32" text-anchor="middle" fill="#000"  stroke="#000" stroke-width="0.35">-10</text>
<text transform="translate(1678.5,511.6) scale(0.92,1)" font-family='"Liberation Sans", sans-serif' font-size="32" text-anchor="middle" fill="#000"  stroke="#000" stroke-width="0.35">-5</text>
<text transform="translate(1734.3,511.6) scale(0.92,1)" font-family='"Liberation Sans", sans-serif' font-size="32" text-anchor="middle" fill="#000"  stroke="#000" stroke-width="0.35">0</text>
<text transform="translate(1786.8,511.6) scale(0.92,1)" font-family='"Liberation Sans", sans-serif' font-size="32" text-anchor="middle" fill="#000"  stroke="#000" stroke-width="0.35">5</text>
<text transform="translate(1841.0,511.6) scale(0.92,1)" font-family='"Liberation Sans", sans-serif' font-size="32" text-anchor="middle" fill="#000"  stroke="#000" stroke-width="0.35">10</text>
<text transform="translate(1898.0,511.6) scale(0.92,1)" font-family='"Liberation Sans", sans-serif' font-size="32" text-anchor="middle" fill="#000"  stroke="#000" stroke-width="0.35">15</text>
<text transform="translate(1954.2,511.6) scale(0.92,1)" font-family='"Liberation Sans", sans-serif' font-size="32" text-anchor="middle" fill="#000"  stroke="#000" stroke-width="0.35">20</text>
<text transform="translate(1425.21,264.74) rotate(-90) scale(0.4344,0.4332)" font-family='"Liberation Sans", sans-serif' font-size="100" fill="#000">β</text>
<text transform="translate(1652.97,562.90) scale(0.3892,0.3614)" font-family='"Liberation Sans", sans-serif' font-size="100" fill="#000" >ln</text>
<text transform="translate(1683.70,562.67) scale(0.3890,0.3530)" font-family='"Liberation Sans", sans-serif' font-size="100" font-style="italic" fill="#000" >g</text>
<text transform="translate(1704.38,562.68) scale(0.4189,0.3721)" font-family='"Liberation Sans", sans-serif' font-size="100" fill="#000" >(</text>
<text transform="translate(1720.07,562.90) scale(0.3758,0.3811)" font-family='"Liberation Sans", sans-serif' font-size="100" font-style="italic" fill="#000" >L</text>
<text transform="translate(1741.44,563.02) scale(0.4281,0.3830)" font-family='"Liberation Sans", sans-serif' font-size="100" font-style="italic" fill="#000" >,</text>
<text transform="translate(1752.15,563.13) scale(0.3851,0.3684)" font-family='"Liberation Sans", sans-serif' font-size="100" font-style="italic" fill="#000" >σ</text>
<text transform="translate(1776.12,569.87) scale(0.3168,0.2812)" font-family='"Liberation Serif", serif' font-size="100" font-style="italic" fill="#000"  stroke="#000" stroke-width="1.00" stroke-linejoin="round">ε</text>
<text transform="translate(1792.49,562.68) scale(0.4189,0.3721)" font-family='"Liberation Sans", sans-serif' font-size="100" fill="#000" >)</text>
<text transform="translate(1664.95,259.60) scale(0.4065,0.3614)" font-family='"Liberation Sans", sans-serif' font-size="100" fill="#000" >β</text>
<text transform="translate(1698.80,265.03) scale(0.5204,0.4880)" font-family='"Liberation Serif", serif' font-size="100" fill="#000" >=</text>
<line x1="1739.8" y1="248.1" x2="1925.4" y2="248.1" stroke="#000" stroke-width="2.4" />
<text transform="translate(1739.88,229.08) scale(0.4212,0.3716)" font-family='"Liberation Serif", serif' font-size="100" fill="#000"  stroke="#000" stroke-width="0.76" stroke-linejoin="round">dln</text>
<text transform="translate(1795.85,230.22) scale(0.3915,0.3590)" font-family='"Liberation Serif", serif' font-size="100" font-style="italic" fill="#000"  stroke="#000" stroke-width="0.80" stroke-linejoin="round">g</text>
<text transform="translate(1817.88,230.59) scale(0.4155,0.4077)" font-family='"Liberation Serif", serif' font-size="100" fill="#000"  stroke="#000" stroke-width="0.73" stroke-linejoin="round">(</text>
<text transform="translate(1835.21,229.15) scale(0.3694,0.3557)" font-family='"Liberation Serif", serif' font-size="100" font-style="italic" fill="#000"  stroke="#000" stroke-width="0.83" stroke-linejoin="round">L</text>
<text transform="translate(1854.53,228.75) scale(0.3800,0.4194)" font-family='"Liberation Serif", serif' font-size="100" fill="#000"  stroke="#000" stroke-width="0.75" stroke-linejoin="round">,</text>
<text transform="translate(1872.49,229.65) scale(0.4687,0.3450)" font-family='"Liberation Serif", serif' font-size="100" font-style="italic" fill="#000" >σ</text>
<text transform="translate(1893.56,238.16) scale(0.3436,0.2854)" font-family='"Liberation Serif", serif' font-size="100" font-style="italic" fill="#000"  stroke="#000" stroke-width="0.95" stroke-linejoin="round">ε</text>
<text transform="translate(1908.86,230.59) scale(0.4583,0.4077)" font-family='"Liberation Serif", serif' font-size="100" fill="#000"  stroke="#000" stroke-width="0.69" stroke-linejoin="round">)</text>
<text transform="translate(1794.40,284.58) scale(0.4130,0.3716)" font-family='"Liberation Serif", serif' font-size="100" fill="#000"  stroke="#000" stroke-width="0.76" stroke-linejoin="round">dln</text>
<text transform="translate(1850.28,284.65) scale(0.3426,0.3649)" font-family='"Liberation Serif", serif' font-size="100" font-style="italic" fill="#000"  stroke="#000" stroke-width="0.85" stroke-linejoin="round">L</text>
<text transform="translate(1377.6,41.3) scale(1,1)" font-family='"Liberation Sans", sans-serif' font-size="51.5" text-anchor="start" fill="#000" letter-spacing="1.0">(c)</text>
</g>
</svg>
</body></html>
